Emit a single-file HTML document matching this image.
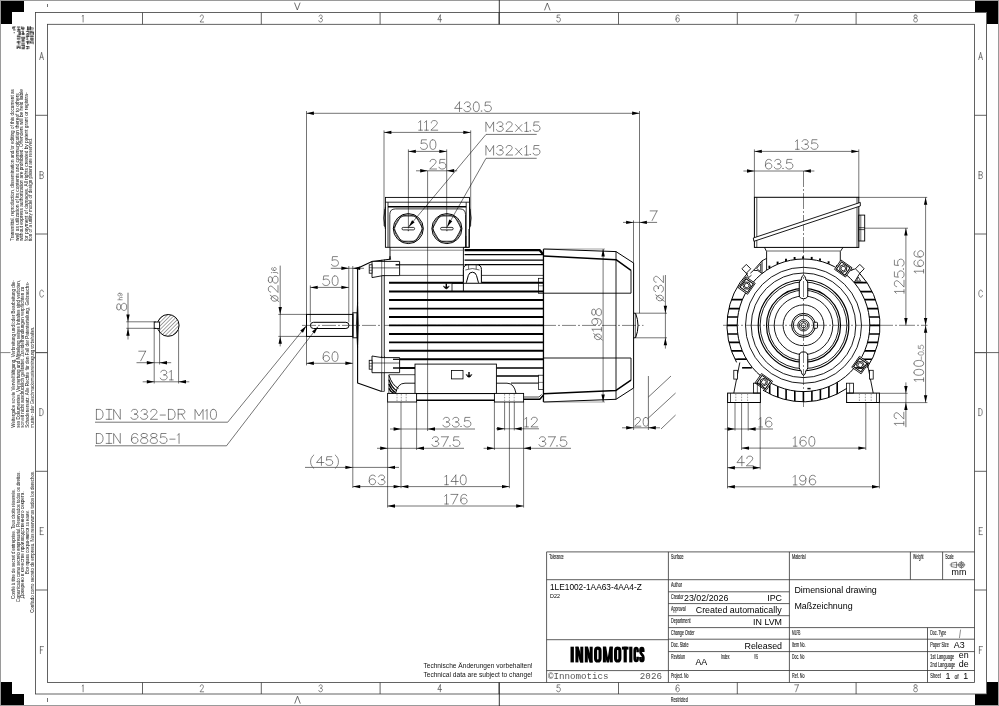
<!DOCTYPE html>
<html><head><meta charset="utf-8"><title>Dimensional drawing</title>
<style>html,body{margin:0;padding:0;background:#fff}svg{display:block;will-change:transform}text{white-space:pre}</style></head>
<body><svg width="999" height="706" viewBox="0 0 999 706">
<rect x="0" y="0" width="999" height="706" fill="#fff"/>
<path d="M0 0H24V12H12V24H0Z" fill="#000"/>
<path d="M999 0H975V12H987V24H999Z" fill="#000"/>
<path d="M0 706H24V694H12V682H0Z" fill="#000"/>
<path d="M999 706H975V694H987V682H999Z" fill="#000"/>
<rect x="0.5" y="0.5" width="998" height="705" fill="none" stroke="#9a9a9a" stroke-width="1"/>
<rect x="35.5" y="12.5" width="951" height="681.5" fill="none" stroke="#3c3c3c" stroke-width="0.8"/>
<rect x="47.5" y="24.3" width="927" height="658.1" fill="none" stroke="#3c3c3c" stroke-width="0.8"/>
<line x1="142.5" y1="12.5" x2="142.5" y2="24.3" stroke="#3c3c3c" stroke-width="0.8"/>
<line x1="142.5" y1="682.4" x2="142.5" y2="694" stroke="#3c3c3c" stroke-width="0.8"/>
<line x1="261.3" y1="12.5" x2="261.3" y2="24.3" stroke="#3c3c3c" stroke-width="0.8"/>
<line x1="261.3" y1="682.4" x2="261.3" y2="694" stroke="#3c3c3c" stroke-width="0.8"/>
<line x1="380.1" y1="12.5" x2="380.1" y2="24.3" stroke="#3c3c3c" stroke-width="0.8"/>
<line x1="380.1" y1="682.4" x2="380.1" y2="694" stroke="#3c3c3c" stroke-width="0.8"/>
<line x1="499" y1="12.5" x2="499" y2="24.3" stroke="#3c3c3c" stroke-width="0.8"/>
<line x1="499" y1="682.4" x2="499" y2="694" stroke="#3c3c3c" stroke-width="0.8"/>
<line x1="618.5" y1="12.5" x2="618.5" y2="24.3" stroke="#3c3c3c" stroke-width="0.8"/>
<line x1="618.5" y1="682.4" x2="618.5" y2="694" stroke="#3c3c3c" stroke-width="0.8"/>
<line x1="737.3" y1="12.5" x2="737.3" y2="24.3" stroke="#3c3c3c" stroke-width="0.8"/>
<line x1="737.3" y1="682.4" x2="737.3" y2="694" stroke="#3c3c3c" stroke-width="0.8"/>
<line x1="856.1" y1="12.5" x2="856.1" y2="24.3" stroke="#3c3c3c" stroke-width="0.8"/>
<line x1="856.1" y1="682.4" x2="856.1" y2="694" stroke="#3c3c3c" stroke-width="0.8"/>
<path transform="translate(83 22)" d="M-0.6 -5.83 L0.12 -7 L0.12 0" fill="none" stroke="#444" stroke-width="0.65" stroke-linecap="round" stroke-linejoin="round"/>
<path transform="translate(83 691.8)" d="M-0.6 -5.83 L0.12 -7 L0.12 0" fill="none" stroke="#444" stroke-width="0.65" stroke-linecap="round" stroke-linejoin="round"/>
<path transform="translate(201.8 22)" d="M-1.48 -5.33 L-1.48 -5.67 L-1.23 -6.33 L-0.97 -6.67 L-0.45 -7 L0.57 -7 L1.09 -6.67 L1.35 -6.33 L1.6 -5.67 L1.6 -5 L1.35 -4.33 L0.83 -3.33 L-1.74 0 L1.86 0" fill="none" stroke="#444" stroke-width="0.65" stroke-linecap="round" stroke-linejoin="round"/>
<path transform="translate(201.8 691.8)" d="M-1.48 -5.33 L-1.48 -5.67 L-1.23 -6.33 L-0.97 -6.67 L-0.45 -7 L0.57 -7 L1.09 -6.67 L1.35 -6.33 L1.6 -5.67 L1.6 -5 L1.35 -4.33 L0.83 -3.33 L-1.74 0 L1.86 0" fill="none" stroke="#444" stroke-width="0.65" stroke-linecap="round" stroke-linejoin="round"/>
<path transform="translate(320.6 22)" d="M-1.48 -5.67 L-1.23 -6.33 L-0.97 -6.67 L-0.45 -7 L0.57 -7 L1.09 -6.67 L1.35 -6.33 L1.6 -5.67 L1.6 -5 L1.35 -4.33 L0.83 -3.83 L0.06 -3.67 M0.06 -3.67 L0.83 -3.5 L1.35 -3.17 L1.73 -2.67 L1.86 -2 L1.86 -1.67 L1.6 -1 L1.09 -0.33 L0.32 0 L-0.45 0 L-1.23 -0.33 L-1.48 -0.67 L-1.74 -1.33" fill="none" stroke="#444" stroke-width="0.65" stroke-linecap="round" stroke-linejoin="round"/>
<path transform="translate(320.6 691.8)" d="M-1.48 -5.67 L-1.23 -6.33 L-0.97 -6.67 L-0.45 -7 L0.57 -7 L1.09 -6.67 L1.35 -6.33 L1.6 -5.67 L1.6 -5 L1.35 -4.33 L0.83 -3.83 L0.06 -3.67 M0.06 -3.67 L0.83 -3.5 L1.35 -3.17 L1.73 -2.67 L1.86 -2 L1.86 -1.67 L1.6 -1 L1.09 -0.33 L0.32 0 L-0.45 0 L-1.23 -0.33 L-1.48 -0.67 L-1.74 -1.33" fill="none" stroke="#444" stroke-width="0.65" stroke-linecap="round" stroke-linejoin="round"/>
<path transform="translate(439.5 22)" d="M0.83 -7 L-1.74 -2.33 L2.12 -2.33 M0.83 -7 L0.83 0" fill="none" stroke="#444" stroke-width="0.65" stroke-linecap="round" stroke-linejoin="round"/>
<path transform="translate(439.5 691.8)" d="M0.83 -7 L-1.74 -2.33 L2.12 -2.33 M0.83 -7 L0.83 0" fill="none" stroke="#444" stroke-width="0.65" stroke-linecap="round" stroke-linejoin="round"/>
<path transform="translate(558.5 22)" d="M1.35 -7 L-1.23 -7 L-1.48 -4 L-1.23 -4.33 L-0.45 -4.67 L0.32 -4.67 L1.09 -4.33 L1.6 -3.67 L1.86 -2.67 L1.86 -2 L1.6 -1 L1.09 -0.33 L0.32 0 L-0.45 0 L-1.23 -0.33 L-1.48 -0.67 L-1.74 -1.33" fill="none" stroke="#444" stroke-width="0.65" stroke-linecap="round" stroke-linejoin="round"/>
<path transform="translate(558.5 691.8)" d="M1.35 -7 L-1.23 -7 L-1.48 -4 L-1.23 -4.33 L-0.45 -4.67 L0.32 -4.67 L1.09 -4.33 L1.6 -3.67 L1.86 -2.67 L1.86 -2 L1.6 -1 L1.09 -0.33 L0.32 0 L-0.45 0 L-1.23 -0.33 L-1.48 -0.67 L-1.74 -1.33" fill="none" stroke="#444" stroke-width="0.65" stroke-linecap="round" stroke-linejoin="round"/>
<path transform="translate(677.5 22)" d="M1.6 -6 L1.35 -6.67 L0.57 -7 L0.06 -7 L-0.71 -6.67 L-1.23 -5.67 L-1.48 -4 L-1.48 -2.33 L-1.23 -1 L-0.71 -0.33 L0.06 0 L0.32 0 L1.09 -0.33 L1.6 -1 L1.86 -2 L1.86 -2.33 L1.6 -3.33 L1.09 -4 L0.32 -4.33 L0.06 -4.33 L-0.71 -4 L-1.23 -3.33 L-1.48 -2.33" fill="none" stroke="#444" stroke-width="0.65" stroke-linecap="round" stroke-linejoin="round"/>
<path transform="translate(677.5 691.8)" d="M1.6 -6 L1.35 -6.67 L0.57 -7 L0.06 -7 L-0.71 -6.67 L-1.23 -5.67 L-1.48 -4 L-1.48 -2.33 L-1.23 -1 L-0.71 -0.33 L0.06 0 L0.32 0 L1.09 -0.33 L1.6 -1 L1.86 -2 L1.86 -2.33 L1.6 -3.33 L1.09 -4 L0.32 -4.33 L0.06 -4.33 L-0.71 -4 L-1.23 -3.33 L-1.48 -2.33" fill="none" stroke="#444" stroke-width="0.65" stroke-linecap="round" stroke-linejoin="round"/>
<path transform="translate(796.5 22)" d="M1.86 -7 L-0.71 0 M-1.74 -7 L1.86 -7" fill="none" stroke="#444" stroke-width="0.65" stroke-linecap="round" stroke-linejoin="round"/>
<path transform="translate(796.5 691.8)" d="M1.86 -7 L-0.71 0 M-1.74 -7 L1.86 -7" fill="none" stroke="#444" stroke-width="0.65" stroke-linecap="round" stroke-linejoin="round"/>
<path transform="translate(915.5 22)" d="M-0.45 -7 L-1.23 -6.67 L-1.48 -6 L-1.48 -5.33 L-1.23 -4.67 L-0.71 -4.33 L0.32 -4 L1.09 -3.67 L1.6 -3 L1.86 -2.33 L1.86 -1.33 L1.6 -0.67 L1.35 -0.33 L0.57 0 L-0.45 0 L-1.23 -0.33 L-1.48 -0.67 L-1.74 -1.33 L-1.74 -2.33 L-1.48 -3 L-0.97 -3.67 L-0.2 -4 L0.83 -4.33 L1.35 -4.67 L1.6 -5.33 L1.6 -6 L1.35 -6.67 L0.57 -7 L-0.45 -7" fill="none" stroke="#444" stroke-width="0.65" stroke-linecap="round" stroke-linejoin="round"/>
<path transform="translate(915.5 691.8)" d="M-0.45 -7 L-1.23 -6.67 L-1.48 -6 L-1.48 -5.33 L-1.23 -4.67 L-0.71 -4.33 L0.32 -4 L1.09 -3.67 L1.6 -3 L1.86 -2.33 L1.86 -1.33 L1.6 -0.67 L1.35 -0.33 L0.57 0 L-0.45 0 L-1.23 -0.33 L-1.48 -0.67 L-1.74 -1.33 L-1.74 -2.33 L-1.48 -3 L-0.97 -3.67 L-0.2 -4 L0.83 -4.33 L1.35 -4.67 L1.6 -5.33 L1.6 -6 L1.35 -6.67 L0.57 -7 L-0.45 -7" fill="none" stroke="#444" stroke-width="0.65" stroke-linecap="round" stroke-linejoin="round"/>
<line x1="35.5" y1="115.3" x2="47.5" y2="115.3" stroke="#3c3c3c" stroke-width="0.8"/>
<line x1="974.5" y1="115.3" x2="986.5" y2="115.3" stroke="#3c3c3c" stroke-width="0.8"/>
<line x1="35.5" y1="234" x2="47.5" y2="234" stroke="#3c3c3c" stroke-width="0.8"/>
<line x1="974.5" y1="234" x2="986.5" y2="234" stroke="#3c3c3c" stroke-width="0.8"/>
<line x1="35.5" y1="352.6" x2="47.5" y2="352.6" stroke="#3c3c3c" stroke-width="0.8"/>
<line x1="974.5" y1="352.6" x2="986.5" y2="352.6" stroke="#3c3c3c" stroke-width="0.8"/>
<line x1="35.5" y1="471.3" x2="47.5" y2="471.3" stroke="#3c3c3c" stroke-width="0.8"/>
<line x1="974.5" y1="471.3" x2="986.5" y2="471.3" stroke="#3c3c3c" stroke-width="0.8"/>
<line x1="35.5" y1="590" x2="47.5" y2="590" stroke="#3c3c3c" stroke-width="0.8"/>
<line x1="974.5" y1="590" x2="986.5" y2="590" stroke="#3c3c3c" stroke-width="0.8"/>
<path transform="translate(41.6 59.6)" d="M0 -7 L-1.92 0 M0 -7 L1.92 0 M-1.2 -2.33 L1.2 -2.33" fill="none" stroke="#444" stroke-width="0.65" stroke-linecap="round" stroke-linejoin="round"/>
<path transform="translate(980.6 59.6)" d="M0 -7 L-1.92 0 M0 -7 L1.92 0 M-1.2 -2.33 L1.2 -2.33" fill="none" stroke="#444" stroke-width="0.65" stroke-linecap="round" stroke-linejoin="round"/>
<path transform="translate(41.6 178.6)" d="M-1.56 -7 L-1.56 0 M-1.56 -7 L0.6 -7 L1.32 -6.67 L1.56 -6.33 L1.8 -5.67 L1.8 -5 L1.56 -4.33 L1.32 -4 L0.6 -3.67 M-1.56 -3.67 L0.6 -3.67 L1.32 -3.33 L1.56 -3 L1.8 -2.33 L1.8 -1.33 L1.56 -0.67 L1.32 -0.33 L0.6 0 L-1.56 0" fill="none" stroke="#444" stroke-width="0.65" stroke-linecap="round" stroke-linejoin="round"/>
<path transform="translate(980.6 178.6)" d="M-1.56 -7 L-1.56 0 M-1.56 -7 L0.6 -7 L1.32 -6.67 L1.56 -6.33 L1.8 -5.67 L1.8 -5 L1.56 -4.33 L1.32 -4 L0.6 -3.67 M-1.56 -3.67 L0.6 -3.67 L1.32 -3.33 L1.56 -3 L1.8 -2.33 L1.8 -1.33 L1.56 -0.67 L1.32 -0.33 L0.6 0 L-1.56 0" fill="none" stroke="#444" stroke-width="0.65" stroke-linecap="round" stroke-linejoin="round"/>
<path transform="translate(41.6 297.1)" d="M1.8 -5.33 L1.56 -6 L1.08 -6.67 L0.6 -7 L-0.36 -7 L-0.84 -6.67 L-1.32 -6 L-1.56 -5.33 L-1.8 -4.33 L-1.8 -2.67 L-1.56 -1.67 L-1.32 -1 L-0.84 -0.33 L-0.36 0 L0.6 0 L1.08 -0.33 L1.56 -1 L1.8 -1.67" fill="none" stroke="#444" stroke-width="0.65" stroke-linecap="round" stroke-linejoin="round"/>
<path transform="translate(980.6 297.1)" d="M1.8 -5.33 L1.56 -6 L1.08 -6.67 L0.6 -7 L-0.36 -7 L-0.84 -6.67 L-1.32 -6 L-1.56 -5.33 L-1.8 -4.33 L-1.8 -2.67 L-1.56 -1.67 L-1.32 -1 L-0.84 -0.33 L-0.36 0 L0.6 0 L1.08 -0.33 L1.56 -1 L1.8 -1.67" fill="none" stroke="#444" stroke-width="0.65" stroke-linecap="round" stroke-linejoin="round"/>
<path transform="translate(41.6 415.6)" d="M-1.76 -7 L-1.76 0 M-1.76 -7 L-0.08 -7 L0.64 -6.67 L1.12 -6 L1.36 -5.33 L1.6 -4.33 L1.6 -2.67 L1.36 -1.67 L1.12 -1 L0.64 -0.33 L-0.08 0 L-1.76 0" fill="none" stroke="#444" stroke-width="0.65" stroke-linecap="round" stroke-linejoin="round"/>
<path transform="translate(980.6 415.6)" d="M-1.76 -7 L-1.76 0 M-1.76 -7 L-0.08 -7 L0.64 -6.67 L1.12 -6 L1.36 -5.33 L1.6 -4.33 L1.6 -2.67 L1.36 -1.67 L1.12 -1 L0.64 -0.33 L-0.08 0 L-1.76 0" fill="none" stroke="#444" stroke-width="0.65" stroke-linecap="round" stroke-linejoin="round"/>
<path transform="translate(41.6 534.6)" d="M-1.32 -7 L-1.32 0 M-1.32 -7 L1.8 -7 M-1.32 -3.67 L0.6 -3.67 M-1.32 0 L1.8 0" fill="none" stroke="#444" stroke-width="0.65" stroke-linecap="round" stroke-linejoin="round"/>
<path transform="translate(980.6 534.6)" d="M-1.32 -7 L-1.32 0 M-1.32 -7 L1.8 -7 M-1.32 -3.67 L0.6 -3.67 M-1.32 0 L1.8 0" fill="none" stroke="#444" stroke-width="0.65" stroke-linecap="round" stroke-linejoin="round"/>
<path transform="translate(41.6 653.6)" d="M-1.2 -7 L-1.2 0 M-1.2 -7 L1.92 -7 M-1.2 -3.67 L0.72 -3.67" fill="none" stroke="#444" stroke-width="0.65" stroke-linecap="round" stroke-linejoin="round"/>
<path transform="translate(980.6 653.6)" d="M-1.2 -7 L-1.2 0 M-1.2 -7 L1.92 -7 M-1.2 -3.67 L0.72 -3.67" fill="none" stroke="#444" stroke-width="0.65" stroke-linecap="round" stroke-linejoin="round"/>
<path transform="translate(297.3 10)" d="M-2.67 -7 L0 0 L2.67 -7" fill="none" stroke="#333" stroke-width="0.7" stroke-linecap="round" stroke-linejoin="round"/>
<path transform="translate(547.3 10)" d="M-2.67 0 L0 -7 L2.67 0" fill="none" stroke="#333" stroke-width="0.7" stroke-linecap="round" stroke-linejoin="round"/>
<line x1="47.5" y1="4" x2="47.5" y2="7" stroke="#333" stroke-width="0.7"/>
<line x1="47.5" y1="698" x2="47.5" y2="702" stroke="#333" stroke-width="0.7"/>
<path d="M12.4 27.8H14.8 M13.2 26.8H15.8 M14.1 26.5V29.1 M13.2 29.9H14.8 M12.4 27.8H14.8 M13.2 29.9H15.8 M12.7 26.5V29.1" stroke="#333" stroke-width="0.6" fill="none"/>
<rect x="13.7" y="32.2" width="1" height="1" fill="#333"/>
<path d="M16.9 26.8H20.3 M18.6 27.5V30.2 M16.9 29.9H20.3 M16.9 27.8H20.3 M17.7 29.9H20.3 M17.7 29.9H20.3 M17.7 29.9H20.3" stroke="#333" stroke-width="0.6" fill="none"/>
<path d="M20 31.2V34.9 M20 32.2V34.9 M18.6 32.2V33.8 M20 32.2V34.9 M20 31.2V34.9 M17.7 34.6H20.3 M16.9 31.5H20.3" stroke="#333" stroke-width="0.6" fill="none"/>
<path d="M16.9 39.3H20.3 M16.9 36.2H19.3 M20 35.9V38.5 M16.9 36.2H20.3 M16.9 36.2H20.3 M16.9 38.2H19.3 M16.9 38.2H20.3" stroke="#333" stroke-width="0.6" fill="none"/>
<path d="M18.6 40.6V44.3 M18.6 41.6V43.2 M17.2 41.6V43.2 M16.9 41.9H20.3 M20 40.6V43.2 M17.7 44H20.3 M16.9 41.9H19.3" stroke="#333" stroke-width="0.6" fill="none"/>
<path d="M18.6 45.3V47.9 M20 46.3V49 M17.2 46.3V49 M17.2 45.3V49 M18.6 46.3V47.9 M16.9 47.6H20.3 M20 45.3V49" stroke="#333" stroke-width="0.6" fill="none"/>
<path d="M21.7 26.5V29.1 M21.7 26.5V29.1 M21.4 28.8H24.8 M22.2 29.9H23.8 M21.4 28.8H23.8 M23.1 26.5V30.2 M22.2 27.8H24.8" stroke="#333" stroke-width="0.6" fill="none"/>
<path d="M21.4 31.5H23.8 M23.1 32.2V34.9 M23.1 32.2V34.9 M23.1 32.2V34.9 M21.4 33.5H24.8 M23.1 31.2V33.8 M21.4 34.6H24.8" stroke="#333" stroke-width="0.6" fill="none"/>
<path d="M22.2 39.3H23.8 M22.2 39.3H23.8 M22.2 38.2H24.8 M21.7 36.9V39.6 M21.4 37.2H24.8 M24.5 36.9V39.6 M23.1 36.9V39.6" stroke="#333" stroke-width="0.6" fill="none"/>
<path d="M21.4 40.9H23.8 M22.2 40.9H23.8 M21.4 40.9H24.8 M21.4 44H24.8 M22.2 40.9H24.8 M21.4 42.9H24.8 M21.4 44H24.8" stroke="#333" stroke-width="0.6" fill="none"/>
<path d="M21.4 48.7H24.8 M21.4 45.6H24.8 M21.4 45.6H24.8 M24.5 45.3V47.9 M21.4 47.6H24.8 M22.2 48.7H24.8 M23.1 45.3V49" stroke="#333" stroke-width="0.6" fill="none"/>
<path d="M27.6 26.5V30.2 M29 27.5V30.2 M29 26.5V30.2 M26.7 29.9H29.3 M27.6 26.5V30.2 M29 26.5V30.2 M27.6 26.5V30.2" stroke="#333" stroke-width="0.6" fill="none"/>
<path d="M26.7 33.5H28.3 M25.9 34.6H29.3 M25.9 31.5H29.3 M29 31.2V34.9 M26.7 31.5H28.3 M29 31.2V33.8 M26.7 33.5H28.3" stroke="#333" stroke-width="0.6" fill="none"/>
<path d="M25.9 36.2H29.3 M25.9 39.3H28.3 M26.7 36.2H29.3 M25.9 36.2H29.3 M26.7 36.2H29.3 M27.6 36.9V39.6 M26.2 36.9V38.5" stroke="#333" stroke-width="0.6" fill="none"/>
<path d="M25.9 41.9H28.3 M29 40.6V43.2 M25.9 41.9H29.3 M29 40.6V44.3 M27.6 40.6V44.3 M27.6 41.6V44.3 M27.6 41.6V44.3" stroke="#333" stroke-width="0.6" fill="none"/>
<path d="M27.6 46.3V49 M25.9 48.7H28.3 M25.9 46.6H29.3 M26.7 48.7H28.3 M29 46.3V49 M25.9 46.6H28.3 M26.7 46.6H28.3" stroke="#333" stroke-width="0.6" fill="none"/>
<path d="M31.9 27.5V29.1 M33.3 27.5V29.1 M30.5 26.5V30.2 M30.2 29.9H33.6 M30.5 26.5V30.2 M30.5 26.5V29.1 M30.2 27.8H32.6" stroke="#333" stroke-width="0.6" fill="none"/>
<path d="M33.3 32.2V34.9 M30.2 31.5H32.6 M30.5 31.2V34.9 M33.3 32.2V33.8 M30.2 32.5H33.6 M31.9 31.2V34.9 M33.3 31.2V34.9" stroke="#333" stroke-width="0.6" fill="none"/>
<path d="M30.2 36.2H33.6 M30.2 36.2H33.6 M30.2 38.2H33.6 M30.2 38.2H33.6 M30.2 39.3H33.6 M30.2 39.3H33.6 M30.2 36.2H33.6" stroke="#333" stroke-width="0.6" fill="none"/>
<path d="M30.5 40.6V43.2 M30.5 41.6V43.2 M30.2 42.9H33.6 M33.3 41.6V44.3 M31 42.9H32.6 M31 40.9H33.6 M31 40.9H33.6" stroke="#333" stroke-width="0.6" fill="none"/>
<text x="14" y="241" font-family="'Liberation Sans', sans-serif" font-size="4.8" fill="#111" text-anchor="start" transform="rotate(-90 14 241)" textLength="151.8" lengthAdjust="spacingAndGlyphs">Transmittal, reproduction, dissemination and/or editing of this document as</text>
<text x="18.6" y="241" font-family="'Liberation Sans', sans-serif" font-size="4.8" fill="#111" text-anchor="start" transform="rotate(-90 18.6 241)" textLength="147.7" lengthAdjust="spacingAndGlyphs">well as utilization of its contents and communication thereof to others</text>
<text x="23.2" y="241" font-family="'Liberation Sans', sans-serif" font-size="4.8" fill="#111" text-anchor="start" transform="rotate(-90 23.2 241)" textLength="151.8" lengthAdjust="spacingAndGlyphs">without express authorization are prohibited. Offenders will be held liable</text>
<text x="27.8" y="241" font-family="'Liberation Sans', sans-serif" font-size="4.8" fill="#111" text-anchor="start" transform="rotate(-90 27.8 241)" textLength="148.5" lengthAdjust="spacingAndGlyphs">for payment of damages. All rights created by patent grant or registra-</text>
<text x="32.4" y="241" font-family="'Liberation Sans', sans-serif" font-size="4.8" fill="#111" text-anchor="start" transform="rotate(-90 32.4 241)" textLength="103" lengthAdjust="spacingAndGlyphs">tion of a utility model or design patent are reserved.</text>
<text x="15.3" y="427.8" font-family="'Liberation Sans', sans-serif" font-size="4.8" fill="#111" text-anchor="start" transform="rotate(-90 15.3 427.8)" textLength="147.7" lengthAdjust="spacingAndGlyphs">Weitergabe sowie Vervielf&#228;ltigung, Verbreitung und/oder Bearbeitung die-</text>
<text x="19.9" y="427.8" font-family="'Liberation Sans', sans-serif" font-size="4.8" fill="#111" text-anchor="start" transform="rotate(-90 19.9 427.8)" textLength="147.7" lengthAdjust="spacingAndGlyphs">ses Dokumentes, Verwertung und Mitteilung seines Inhaltes sind verboten,</text>
<text x="24.5" y="427.8" font-family="'Liberation Sans', sans-serif" font-size="4.8" fill="#111" text-anchor="start" transform="rotate(-90 24.5 427.8)" textLength="141" lengthAdjust="spacingAndGlyphs">soweit nicht ausdr&#252;cklich gestattet. Zuwiderhandlungen verpflichten zu</text>
<text x="29.1" y="427.8" font-family="'Liberation Sans', sans-serif" font-size="4.8" fill="#111" text-anchor="start" transform="rotate(-90 29.1 427.8)" textLength="146" lengthAdjust="spacingAndGlyphs">Schadenersatz. Alle Rechte f&#252;r den Fall der Patenterteilung, Gebrauchs-</text>
<text x="33.7" y="427.8" font-family="'Liberation Sans', sans-serif" font-size="4.8" fill="#111" text-anchor="start" transform="rotate(-90 33.7 427.8)" textLength="101" lengthAdjust="spacingAndGlyphs">muster- oder Geschmacksmustereintragung vorbehalten.</text>
<text x="14.8" y="544" font-family="'Liberation Sans', sans-serif" font-size="4.8" fill="#111" text-anchor="middle" transform="rotate(-90 14.8 544)" textLength="110" lengthAdjust="spacingAndGlyphs">Confi&#233; &#224; titre de secret d'entreprise. Tous droits r&#233;serv&#233;s.</text>
<text x="19.6" y="536.7" font-family="'Liberation Sans', sans-serif" font-size="4.8" fill="#111" text-anchor="middle" transform="rotate(-90 19.6 536.7)" textLength="130.6" lengthAdjust="spacingAndGlyphs">Comunicado como secreto empresarial. Reservados todos os direitos.</text>
<text x="24.4" y="544.8" font-family="'Liberation Sans', sans-serif" font-size="4.8" fill="#111" text-anchor="middle" transform="rotate(-90 24.4 544.8)" textLength="107" lengthAdjust="spacingAndGlyphs">&#1044;&#1086;&#1074;&#1077;&#1088;&#1077;&#1085;&#1086; &#1074; &#1082;&#1072;&#1095;&#1077;&#1089;&#1090;&#1074;&#1077; &#1087;&#1088;&#1086;&#1080;&#1079;&#1074;&#1086;&#1076;&#1089;&#1090;&#1074;&#1077;&#1085;&#1085;&#1086;&#1075;&#1086; &#1089;&#1077;&#1082;&#1088;&#1077;&#1090;&#1072;.</text>
<text x="29.2" y="542" font-family="'Liberation Sans', sans-serif" font-size="4.8" fill="#111" text-anchor="middle" transform="rotate(-90 29.2 542)" textLength="64" lengthAdjust="spacingAndGlyphs">&#1042;&#1089;&#1077; &#1087;&#1088;&#1072;&#1074;&#1072; &#1089;&#1086;&#1093;&#1088;&#1072;&#1085;&#1103;&#1102;&#1090;&#1089;&#1103; &#1079;&#1072; &#1085;&#1072;&#1084;&#1080;.</text>
<text x="34" y="541.8" font-family="'Liberation Sans', sans-serif" font-size="4.8" fill="#111" text-anchor="middle" transform="rotate(-90 34 541.8)" textLength="142" lengthAdjust="spacingAndGlyphs">Confiado como secreto de empresa. Nos reservamos todos los derechos.</text>
<line x1="499.3" y1="0" x2="499.3" y2="24.3" stroke="#222" stroke-width="0.9"/>
<line x1="499.3" y1="682.4" x2="499.3" y2="706" stroke="#222" stroke-width="0.9"/>
<line x1="0" y1="352.6" x2="10.5" y2="352.6" stroke="#777" stroke-width="0.9"/>
<line x1="35.5" y1="352.6" x2="47.5" y2="352.6" stroke="#555" stroke-width="0.9"/>
<line x1="974.5" y1="352.6" x2="999" y2="352.6" stroke="#555" stroke-width="0.9"/>
<path transform="translate(297.5 703.2)" d="M-2.67 0 L0 -7 L2.67 0" fill="none" stroke="#333" stroke-width="0.7" stroke-linecap="round" stroke-linejoin="round"/>
<defs><pattern id="hat" width="2.6" height="2.6" patternUnits="userSpaceOnUse" patternTransform="rotate(-45)"><line x1="0" y1="0" x2="2.6" y2="0" stroke="#000" stroke-width="0.7"/></pattern><clipPath id="cpS"><circle cx="168.2" cy="325.4" r="10.9"/></clipPath></defs>
<rect x="150" y="310" width="40" height="32" fill="url(#hat)" clip-path="url(#cpS)"/>
<circle cx="168.2" cy="325.4" r="10.9" fill="none" stroke="#000" stroke-width="1"/>
<rect x="154.2" y="322" width="5.4" height="6.4" fill="#fff" stroke="#000" stroke-width="0.9"/>
<line x1="126.3" y1="321.8" x2="156" y2="321.8" stroke="#000" stroke-width="0.55"/>
<line x1="126.3" y1="328.3" x2="156" y2="328.3" stroke="#000" stroke-width="0.55"/>
<line x1="128" y1="292.7" x2="128" y2="339.5" stroke="#000" stroke-width="0.55"/>
<path d="M128 321.8 L126.3 314.4 L129.7 314.4 Z" fill="#000"/>
<path d="M128 328.3 L129.7 335.7 L126.3 335.7 Z" fill="#000"/>
<path transform="translate(126.6 311.8) rotate(-90)" d="M3.9 -9.8 L2.4 -9.33 L1.9 -8.4 L1.9 -7.47 L2.4 -6.53 L3.4 -6.07 L5.4 -5.6 L6.9 -5.13 L7.9 -4.2 L8.4 -3.27 L8.4 -1.87 L7.9 -0.93 L7.4 -0.47 L5.9 0 L3.9 0 L2.4 -0.47 L1.9 -0.93 L1.4 -1.87 L1.4 -3.27 L1.9 -4.2 L2.9 -5.13 L4.4 -5.6 L6.4 -6.07 L7.4 -6.53 L7.9 -7.47 L7.9 -8.4 L7.4 -9.33 L5.9 -9.8 L3.9 -9.8" fill="none" stroke="#4a4a4a" stroke-width="0.68" stroke-linecap="round" stroke-linejoin="round"/>
<path transform="translate(122.2 300.6) rotate(-90)" d="M0.82 -4.3 L0.82 0 M0.82 -2.05 L1.43 -2.66 L1.84 -2.87 L2.46 -2.87 L2.87 -2.66 L3.07 -2.05 L3.07 0 M7.36 -2.87 L7.14 -2.25 L6.7 -1.84 L6.04 -1.64 L5.82 -1.64 L5.16 -1.84 L4.72 -2.25 L4.5 -2.87 L4.5 -3.07 L4.72 -3.69 L5.16 -4.1 L5.82 -4.3 L6.04 -4.3 L6.7 -4.1 L7.14 -3.69 L7.36 -2.87 L7.36 -1.84 L7.14 -0.82 L6.7 -0.2 L6.04 0 L5.6 0 L4.94 -0.2 L4.72 -0.61" fill="none" stroke="#4a4a4a" stroke-width="0.55" stroke-linecap="round" stroke-linejoin="round"/>
<line x1="154.2" y1="328.4" x2="154.2" y2="383.5" stroke="#000" stroke-width="0.55"/>
<line x1="159.6" y1="328.4" x2="159.6" y2="364.5" stroke="#000" stroke-width="0.55"/>
<line x1="178.6" y1="330" x2="178.6" y2="383.5" stroke="#000" stroke-width="0.55"/>
<line x1="136.5" y1="362.7" x2="154.2" y2="362.7" stroke="#000" stroke-width="0.55"/>
<line x1="159.6" y1="362.7" x2="171.2" y2="362.7" stroke="#000" stroke-width="0.55"/>
<path d="M154.2 362.7 L146.8 364.4 L146.8 361 Z" fill="#000"/>
<path d="M159.6 362.7 L167 361 L167 364.4 Z" fill="#000"/>
<line x1="154.2" y1="362.7" x2="159.6" y2="362.7" stroke="#000" stroke-width="0.55"/>
<path transform="translate(137.4 360.8)" d="M8.23 -9.6 L3.33 0 M1.37 -9.6 L8.23 -9.6" fill="none" stroke="#4a4a4a" stroke-width="0.68" stroke-linecap="round" stroke-linejoin="round"/>
<line x1="142.7" y1="381.8" x2="154.2" y2="381.8" stroke="#000" stroke-width="0.55"/>
<line x1="178.6" y1="381.8" x2="189.3" y2="381.8" stroke="#000" stroke-width="0.55"/>
<path d="M154.2 381.8 L146.8 383.5 L146.8 380.1 Z" fill="#000"/>
<path d="M178.6 381.8 L186 380.1 L186 383.5 Z" fill="#000"/>
<line x1="154.2" y1="381.8" x2="178.6" y2="381.8" stroke="#000" stroke-width="0.55"/>
<path transform="translate(159 379.9)" d="M1.86 -7.77 L2.35 -8.69 L2.84 -9.14 L3.82 -9.6 L5.78 -9.6 L6.76 -9.14 L7.25 -8.69 L7.74 -7.77 L7.74 -6.86 L7.25 -5.94 L6.27 -5.26 L4.8 -5.03 M4.8 -5.03 L6.27 -4.8 L7.25 -4.34 L7.98 -3.66 L8.23 -2.74 L8.23 -2.29 L7.74 -1.37 L6.76 -0.46 L5.29 0 L3.82 0 L2.35 -0.46 L1.86 -0.91 L1.37 -1.83 M10.51 -7.77 L12.34 -9.6 L12.34 0 M10.51 0 L14.17 0" fill="none" stroke="#4a4a4a" stroke-width="0.68" stroke-linecap="round" stroke-linejoin="round"/>
<path transform="translate(95 419.3)" d="M1.41 -9.9 L1.41 0 M1.41 -9.9 L4.71 -9.9 L6.13 -9.43 L7.07 -8.49 L7.54 -7.54 L8.01 -6.13 L8.01 -3.77 L7.54 -2.36 L7.07 -1.41 L6.13 -0.47 L4.71 0 L1.41 0 M11.17 -9.9 L16.83 -9.9 M14 -9.9 L14 0 M11.17 0 L16.83 0 M18.67 0 L18.67 -9.9 L25.27 0 L25.27 -9.9 M36.48 -8.01 L36.98 -8.96 L37.49 -9.43 L38.5 -9.9 L40.52 -9.9 L41.53 -9.43 L42.03 -8.96 L42.54 -8.01 L42.54 -7.07 L42.03 -6.13 L41.02 -5.42 L39.51 -5.19 M39.51 -5.19 L41.02 -4.95 L42.03 -4.48 L42.79 -3.77 L43.04 -2.83 L43.04 -2.36 L42.54 -1.41 L41.53 -0.47 L40.01 0 L38.5 0 L36.98 -0.47 L36.48 -0.94 L35.97 -1.89 M46.14 -8.01 L46.64 -8.96 L47.15 -9.43 L48.16 -9.9 L50.18 -9.9 L51.19 -9.43 L51.7 -8.96 L52.2 -8.01 L52.2 -7.07 L51.7 -6.13 L50.69 -5.42 L49.17 -5.19 M49.17 -5.19 L50.69 -4.95 L51.7 -4.48 L52.45 -3.77 L52.71 -2.83 L52.71 -2.36 L52.2 -1.41 L51.19 -0.47 L49.68 0 L48.16 0 L46.64 -0.47 L46.14 -0.94 L45.63 -1.89 M55.8 -7.54 L55.8 -8.01 L56.31 -8.96 L56.81 -9.43 L57.82 -9.9 L59.84 -9.9 L60.85 -9.43 L61.36 -8.96 L61.86 -8.01 L61.86 -7.07 L61.36 -6.13 L60.35 -4.71 L55.3 0 L62.37 0 M65.2 -4.24 L70.38 -4.24 M73.45 -9.9 L73.45 0 M73.45 -9.9 L76.75 -9.9 L78.16 -9.43 L79.11 -8.49 L79.58 -7.54 L80.05 -6.13 L80.05 -3.77 L79.58 -2.36 L79.11 -1.41 L78.16 -0.47 L76.75 0 L73.45 0 M83.21 -9.9 L83.21 0 M83.21 -9.9 L87.45 -9.9 L88.86 -9.43 L89.34 -8.96 L89.81 -8.01 L89.81 -7.07 L89.34 -6.13 L88.86 -5.66 L87.45 -5.19 L83.21 -5.19 M86.51 -5.19 L89.81 0 M100.04 0 L100.04 -9.9 L104.04 -3.3 L108.05 -9.9 L108.05 0 M110.64 -8.25 L112.06 -9.9 L112.06 0 M117.99 -9.9 L116.67 -9.43 L115.8 -8.01 L115.36 -5.66 L115.36 -4.24 L115.8 -1.89 L116.67 -0.47 L117.99 0 L118.86 0 L120.17 -0.47 L121.05 -1.89 L121.49 -4.24 L121.49 -5.66 L121.05 -8.01 L120.17 -9.43 L118.86 -9.9 L117.99 -9.9" fill="none" stroke="#4a4a4a" stroke-width="0.68" stroke-linecap="round" stroke-linejoin="round"/>
<path d="M95 422.2 L227.7 422.2 L306.3 325.9" fill="none" stroke="#000" stroke-width="0.55" stroke-linejoin="round"/>
<path d="M306.3 325.9 L302.94 332.71 L300.3 330.56 Z" fill="#000"/>
<path transform="translate(95 443.4)" d="M1.41 -9.9 L1.41 0 M1.41 -9.9 L4.71 -9.9 L6.13 -9.43 L7.07 -8.49 L7.54 -7.54 L8.01 -6.13 L8.01 -3.77 L7.54 -2.36 L7.07 -1.41 L6.13 -0.47 L4.71 0 L1.41 0 M11.17 -9.9 L16.83 -9.9 M14 -9.9 L14 0 M11.17 0 L16.83 0 M18.67 0 L18.67 -9.9 L25.27 0 L25.27 -9.9 M42.54 -8.49 L42.03 -9.43 L40.52 -9.9 L39.51 -9.9 L37.99 -9.43 L36.98 -8.01 L36.48 -5.66 L36.48 -3.3 L36.98 -1.41 L37.99 -0.47 L39.51 0 L40.01 0 L41.53 -0.47 L42.54 -1.41 L43.04 -2.83 L43.04 -3.3 L42.54 -4.71 L41.53 -5.66 L40.01 -6.13 L39.51 -6.13 L37.99 -5.66 L36.98 -4.71 L36.48 -3.3 M48.16 -9.9 L46.64 -9.43 L46.14 -8.49 L46.14 -7.54 L46.64 -6.6 L47.65 -6.13 L49.68 -5.66 L51.19 -5.19 L52.2 -4.24 L52.71 -3.3 L52.71 -1.89 L52.2 -0.94 L51.7 -0.47 L50.18 0 L48.16 0 L46.64 -0.47 L46.14 -0.94 L45.63 -1.89 L45.63 -3.3 L46.14 -4.24 L47.15 -5.19 L48.66 -5.66 L50.69 -6.13 L51.7 -6.6 L52.2 -7.54 L52.2 -8.49 L51.7 -9.43 L50.18 -9.9 L48.16 -9.9 M57.82 -9.9 L56.31 -9.43 L55.8 -8.49 L55.8 -7.54 L56.31 -6.6 L57.32 -6.13 L59.34 -5.66 L60.85 -5.19 L61.86 -4.24 L62.37 -3.3 L62.37 -1.89 L61.86 -0.94 L61.36 -0.47 L59.84 0 L57.82 0 L56.31 -0.47 L55.8 -0.94 L55.3 -1.89 L55.3 -3.3 L55.8 -4.24 L56.81 -5.19 L58.33 -5.66 L60.35 -6.13 L61.36 -6.6 L61.86 -7.54 L61.86 -8.49 L61.36 -9.43 L59.84 -9.9 L57.82 -9.9 M71.02 -9.9 L65.97 -9.9 L65.47 -5.66 L65.97 -6.13 L67.49 -6.6 L69 -6.6 L70.52 -6.13 L71.53 -5.19 L72.03 -3.77 L72.03 -2.83 L71.53 -1.41 L70.52 -0.47 L69 0 L67.49 0 L65.97 -0.47 L65.47 -0.94 L64.96 -1.89 M74.86 -4.24 L80.05 -4.24 M82.64 -8.25 L84.06 -9.9 L84.06 0" fill="none" stroke="#4a4a4a" stroke-width="0.68" stroke-linecap="round" stroke-linejoin="round"/>
<path d="M95 445.8 L226.5 445.8 L317.9 326.7" fill="none" stroke="#000" stroke-width="0.55" stroke-linejoin="round"/>
<path d="M317.9 326.7 L314.74 333.61 L312.05 331.54 Z" fill="#000"/>
<line x1="302" y1="325.4" x2="643.5" y2="325.4" stroke="#000" stroke-width="0.5" stroke-dasharray="14 2 2 2"/>
<rect x="306.5" y="314.4" width="46.4" height="22" fill="none" stroke="#000" stroke-width="1"/>
<rect x="310.4" y="322.3" width="38.6" height="6.2" fill="none" stroke="#000" stroke-width="1" rx="3.1"/>
<rect x="352.9" y="312.8" width="4.3" height="25" fill="none" stroke="#000" stroke-width="0.9"/>
<path d="M357.6 302.5 Q355.2 325.4 357.6 347.5" fill="none" stroke="#000" stroke-width="0.8"/>
<path d="M357.6 306 Q359.6 325.4 357.6 345" fill="none" stroke="#000" stroke-width="0.6"/>
<path d="M389.8 259.2 L372 261.5 L357.6 268.3 L357.6 383.1 L381.7 391.5" fill="none" stroke="#000" stroke-width="1.1" stroke-linejoin="round"/>
<rect x="381.7" y="275.6" width="2.8" height="115.9" fill="#c9c9c9" stroke="#000" stroke-width="0.6"/>
<line x1="381.7" y1="259.8" x2="381.7" y2="275.6" stroke="#000" stroke-width="0.6"/>
<line x1="384.5" y1="259.5" x2="384.5" y2="275.6" stroke="#000" stroke-width="0.6"/>
<line x1="389" y1="282.8" x2="543.3" y2="282.8" stroke="#000" stroke-width="1.9"/>
<line x1="389" y1="291.5" x2="543.3" y2="291.5" stroke="#000" stroke-width="1.9"/>
<line x1="389" y1="300" x2="543.3" y2="300" stroke="#000" stroke-width="1.9"/>
<line x1="389" y1="308.6" x2="543.3" y2="308.6" stroke="#000" stroke-width="1.9"/>
<line x1="389" y1="317" x2="543.3" y2="317" stroke="#000" stroke-width="1.9"/>
<line x1="389" y1="325.4" x2="543.3" y2="325.4" stroke="#000" stroke-width="1.9"/>
<line x1="389" y1="334" x2="543.3" y2="334" stroke="#000" stroke-width="1.9"/>
<line x1="389" y1="342.4" x2="543.3" y2="342.4" stroke="#000" stroke-width="1.9"/>
<line x1="389" y1="350.8" x2="543.3" y2="350.8" stroke="#000" stroke-width="1.9"/>
<line x1="399.6" y1="359.3" x2="543.3" y2="359.3" stroke="#000" stroke-width="1.9"/>
<line x1="396" y1="368" x2="415" y2="368" stroke="#000" stroke-width="1.9"/>
<line x1="496.4" y1="368" x2="543.3" y2="368" stroke="#000" stroke-width="1.6"/>
<line x1="388.7" y1="374.7" x2="415" y2="374.7" stroke="#000" stroke-width="0.7"/>
<line x1="496.4" y1="376" x2="538.5" y2="376" stroke="#000" stroke-width="1.3"/>
<line x1="511" y1="383.1" x2="538.5" y2="383.1" stroke="#000" stroke-width="1"/>
<line x1="384.5" y1="264.8" x2="463.4" y2="264.8" stroke="#000" stroke-width="1"/>
<line x1="399.6" y1="275.4" x2="463.4" y2="275.4" stroke="#000" stroke-width="0.7"/>
<line x1="481.4" y1="275.4" x2="543.3" y2="275.4" stroke="#000" stroke-width="0.7"/>
<path d="M464.6 250.2 L539.8 250.2 L543 254.2" fill="none" stroke="#000" stroke-width="2.3" stroke-linejoin="round"/>
<line x1="464.6" y1="254.7" x2="543.3" y2="254.7" stroke="#000" stroke-width="1.25"/>
<line x1="464.6" y1="260.1" x2="543.3" y2="260.1" stroke="#000" stroke-width="1.25"/>
<line x1="464.6" y1="264.7" x2="543.3" y2="264.7" stroke="#000" stroke-width="1.25"/>
<line x1="543.3" y1="249.4" x2="543.3" y2="402" stroke="#000" stroke-width="1"/>
<path d="M372 261.4 L399.6 261.4 L399.6 275.6 L383 275.6 L372 277.6 Z" fill="#fff" stroke="#000" stroke-width="0.9" stroke-linejoin="round"/>
<rect x="369.2" y="264.8" width="2.8" height="8.4" fill="#fff" stroke="#000" stroke-width="0.8"/>
<line x1="369.2" y1="267.7" x2="372" y2="267.7" stroke="#000" stroke-width="0.5"/>
<line x1="369.2" y1="270.3" x2="372" y2="270.3" stroke="#000" stroke-width="0.5"/>
<line x1="372" y1="267.9" x2="399.6" y2="267.9" stroke="#000" stroke-width="0.6"/>
<line x1="381.7" y1="261.4" x2="381.7" y2="275.6" stroke="#000" stroke-width="0.5"/>
<line x1="384.5" y1="261.4" x2="384.5" y2="275.6" stroke="#000" stroke-width="0.5"/>
<path d="M372 356 L382 357.6 L399.6 357.6 L399.6 372.7 L372 372.7 Z" fill="#fff" stroke="#000" stroke-width="0.9" stroke-linejoin="round"/>
<rect x="369.2" y="360.3" width="2.8" height="8.9" fill="#fff" stroke="#000" stroke-width="0.8"/>
<line x1="369.2" y1="363.45" x2="372" y2="363.45" stroke="#000" stroke-width="0.5"/>
<line x1="369.2" y1="366.05" x2="372" y2="366.05" stroke="#000" stroke-width="0.5"/>
<line x1="372" y1="363" x2="399.6" y2="363" stroke="#000" stroke-width="0.6"/>
<line x1="381.7" y1="356" x2="381.7" y2="372.7" stroke="#000" stroke-width="0.5"/>
<line x1="384.5" y1="356" x2="384.5" y2="372.7" stroke="#000" stroke-width="0.5"/>
<line x1="395.6" y1="264.8" x2="399.6" y2="264.8" stroke="#000" stroke-width="1.4"/>
<line x1="393" y1="359.3" x2="399.6" y2="359.3" stroke="#000" stroke-width="1.2"/>
<line x1="393" y1="368" x2="399.6" y2="368" stroke="#000" stroke-width="1.4"/>
<rect x="385.4" y="197.4" width="84.1" height="49.9" fill="none" stroke="#000" stroke-width="0.9"/>
<line x1="385.4" y1="202.2" x2="469.5" y2="202.2" stroke="#000" stroke-width="0.8"/>
<line x1="388" y1="206.7" x2="466.2" y2="206.7" stroke="#000" stroke-width="1.5"/>
<line x1="388" y1="202.2" x2="388" y2="247.3" stroke="#000" stroke-width="0.8"/>
<line x1="466.2" y1="202.2" x2="466.2" y2="247.3" stroke="#000" stroke-width="0.8"/>
<path d="M389.8 247.3 V214.5 Q389.8 208.9 395.4 208.9 H459.9 Q465.5 208.9 465.5 214.5 V247.3" fill="none" stroke="#000" stroke-width="0.8"/>
<path d="M385.4 207 Q382.4 218 385.4 229" fill="none" stroke="#000" stroke-width="0.7"/>
<path d="M384.6 209 Q383.4 218 384.6 227" fill="none" stroke="#000" stroke-width="0.5"/>
<path d="M469.5 207 Q472.5 218 469.5 229" fill="none" stroke="#000" stroke-width="0.7"/>
<path d="M470.3 209 Q471.5 218 470.3 227" fill="none" stroke="#000" stroke-width="0.5"/>
<circle cx="408.3" cy="228.6" r="15" fill="none" stroke="#000" stroke-width="1"/>
<circle cx="408.3" cy="228.6" r="13.7" fill="none" stroke="#000" stroke-width="0.7"/>
<path d="M422.9 228.6 L415.6 241.24 L401 241.24 L393.7 228.6 L401 215.96 L415.6 215.96 Z" fill="none" stroke="#000" stroke-width="0.8" stroke-linejoin="round"/>
<rect x="402" y="227.4" width="12.6" height="2.5" fill="none" stroke="#000" stroke-width="0.8" rx="1.2"/>
<line x1="408.3" y1="229.9" x2="408.3" y2="231.2" stroke="#000" stroke-width="0.8"/>
<circle cx="446.9" cy="228.6" r="15" fill="none" stroke="#000" stroke-width="1"/>
<circle cx="446.9" cy="228.6" r="13.7" fill="none" stroke="#000" stroke-width="0.7"/>
<path d="M461.5 228.6 L454.2 241.24 L439.6 241.24 L432.3 228.6 L439.6 215.96 L454.2 215.96 Z" fill="none" stroke="#000" stroke-width="0.8" stroke-linejoin="round"/>
<rect x="440.6" y="227.4" width="12.6" height="2.5" fill="none" stroke="#000" stroke-width="0.8" rx="1.2"/>
<line x1="446.9" y1="229.9" x2="446.9" y2="231.2" stroke="#000" stroke-width="0.8"/>
<line x1="390" y1="247.3" x2="390" y2="259.2" stroke="#000" stroke-width="0.9"/>
<line x1="463.4" y1="247.3" x2="463.4" y2="291.5" stroke="#000" stroke-width="0.9"/>
<line x1="390" y1="250.2" x2="463.4" y2="250.2" stroke="#555" stroke-width="0.7"/>
<path d="M390 256 L389.2 259.6 L390.8 259.6 Z" fill="#000" stroke="#000" stroke-width="0.4"/>
<line x1="465.9" y1="236" x2="465.9" y2="247.3" stroke="#000" stroke-width="0.6"/>
<line x1="468.7" y1="229" x2="468.7" y2="247.4" stroke="#000" stroke-width="0.6"/>
<line x1="463.4" y1="247.4" x2="468.7" y2="247.4" stroke="#000" stroke-width="0.7"/>
<path d="M463.4 282.8 V269.5 Q463.4 264.8 468 264.8 H476.8 Q481.4 264.8 481.4 269.5 V282.8" fill="#fff" stroke="#000" stroke-width="1"/>
<path d="M466.3 282.8 L468.3 275.5 Q469.2 272.2 472.4 272.2 Q475.6 272.2 476.5 275.5 L478.5 282.8" fill="none" stroke="#000" stroke-width="1"/>
<path d="M465.3 270 Q472.4 267 479.5 270" fill="none" stroke="#000" stroke-width="0.6"/>
<line x1="468.6" y1="264.8" x2="468.6" y2="269" stroke="#000" stroke-width="0.6"/>
<line x1="476.2" y1="264.8" x2="476.2" y2="269" stroke="#000" stroke-width="0.6"/>
<path d="M452 291.5 L452 283.4 L463.4 283.4" fill="none" stroke="#000" stroke-width="0.8" stroke-linejoin="round"/>
<line x1="446.3" y1="283.6" x2="446.3" y2="288" stroke="#000" stroke-width="1.4"/>
<path d="M443.3 286 Q446.3 291.8 449.3 286 Q446.3 288.4 443.3 286 Z" fill="#000" stroke="#000" stroke-width="0.5" stroke-linejoin="round"/>
<rect x="415" y="364.1" width="81.4" height="29.4" fill="#fff" stroke="#000" stroke-width="0.9"/>
<rect x="451.5" y="370.4" width="11.5" height="8.5" fill="none" stroke="#000" stroke-width="0.8"/>
<line x1="469" y1="372" x2="469" y2="376.4" stroke="#000" stroke-width="1.4"/>
<path d="M466 374.4 Q469 380.2 472 374.4 Q469 376.8 466 374.4 Z" fill="#000" stroke="#000" stroke-width="0.5" stroke-linejoin="round"/>
<rect x="387.6" y="393.4" width="29" height="8.6" fill="#fff" stroke="#000" stroke-width="0.9"/>
<rect x="494.4" y="393.4" width="29.2" height="8.6" fill="#fff" stroke="#000" stroke-width="0.9"/>
<line x1="397" y1="394" x2="397" y2="401.6" stroke="#888" stroke-width="0.8" stroke-dasharray="1.6 1.2"/>
<line x1="401.3" y1="394" x2="401.3" y2="401.6" stroke="#888" stroke-width="0.8" stroke-dasharray="1.6 1.2"/>
<line x1="406.2" y1="394" x2="406.2" y2="401.6" stroke="#888" stroke-width="0.8" stroke-dasharray="1.6 1.2"/>
<line x1="504.6" y1="394" x2="504.6" y2="401.6" stroke="#888" stroke-width="0.8" stroke-dasharray="1.6 1.2"/>
<line x1="509.4" y1="394" x2="509.4" y2="401.6" stroke="#888" stroke-width="0.8" stroke-dasharray="1.6 1.2"/>
<line x1="514.2" y1="394" x2="514.2" y2="401.6" stroke="#888" stroke-width="0.8" stroke-dasharray="1.6 1.2"/>
<line x1="416.6" y1="393.6" x2="494.4" y2="393.6" stroke="#000" stroke-width="0.8"/>
<line x1="416.6" y1="400.2" x2="494.4" y2="400.2" stroke="#000" stroke-width="1.5"/>
<path d="M395.6 393.4 Q397.5 383.2 405 383.2 H415" fill="none" stroke="#000" stroke-width="0.9"/>
<path d="M496.4 383.2 H507 Q514.2 383.2 516 393.4" fill="none" stroke="#000" stroke-width="0.9"/>
<path d="M388.9 375.2 Q392 385 398.4 388.4" fill="none" stroke="#000" stroke-width="1"/>
<path d="M388.9 379.6 Q391.6 387.6 396.8 390.8" fill="none" stroke="#000" stroke-width="1.3"/>
<path d="M388.9 384.0 Q391 389.6 395.6 392.8" fill="none" stroke="#000" stroke-width="1.3"/>
<path d="M388.9 388.4 Q390.4 391.6 393.6 393.2" fill="none" stroke="#000" stroke-width="1.3"/>
<line x1="388.9" y1="375.2" x2="388.9" y2="393.4" stroke="#000" stroke-width="0.7"/>
<path d="M523.6 399.3 L539.8 399.3 L543.3 395.2" fill="none" stroke="#000" stroke-width="1.5" stroke-linejoin="round"/>
<path d="M523.6 397 L539 397 L541.6 394.4" fill="none" stroke="#000" stroke-width="0.7" stroke-linejoin="round"/>
<rect x="538.5" y="375.2" width="4.8" height="14.4" fill="none" stroke="#000" stroke-width="0.7"/>
<line x1="538.5" y1="382.4" x2="543.3" y2="382.4" stroke="#000" stroke-width="0.5"/>
<path d="M543.6 249 L616 251.6 L633.6 263 L633.6 388 L616 399.3 L543.6 402 Z" fill="none" stroke="#000" stroke-width="1" stroke-linejoin="round"/>
<path d="M543.6 256 L616 259.7 L631 270.3" fill="none" stroke="#000" stroke-width="1.5" stroke-linejoin="round"/>
<path d="M631 270.3 L631 293.2 L543.6 293.2" fill="none" stroke="#000" stroke-width="0.9" stroke-linejoin="round"/>
<path d="M543.6 393.7 L616 390.4 L631 380.2" fill="none" stroke="#000" stroke-width="1.5" stroke-linejoin="round"/>
<path d="M631 380.2 L631 358 L543.6 358" fill="none" stroke="#000" stroke-width="0.9" stroke-linejoin="round"/>
<line x1="616" y1="251.6" x2="616" y2="399.3" stroke="#000" stroke-width="0.9"/>
<rect x="538.6" y="278.3" width="4.7" height="15" fill="none" stroke="#000" stroke-width="0.7"/>
<line x1="538.6" y1="285.8" x2="543.3" y2="285.8" stroke="#000" stroke-width="0.5"/>
<path d="M633.6 313.2 H635.6 Q640.4 325.4 635.6 337.8 H633.6" fill="none" stroke="#000" stroke-width="1"/>
<line x1="635.4" y1="313.2" x2="635.4" y2="337.8" stroke="#000" stroke-width="0.6"/>
<line x1="306.5" y1="111" x2="306.5" y2="314.4" stroke="#000" stroke-width="0.55"/>
<line x1="639.5" y1="111" x2="639.5" y2="313.2" stroke="#000" stroke-width="0.55"/>
<line x1="306.5" y1="113.3" x2="639.5" y2="113.3" stroke="#000" stroke-width="0.55"/>
<path d="M306.5 113.3 L313.9 111.6 L313.9 115 Z" fill="#000"/>
<path d="M639.5 113.3 L632.1 115 L632.1 111.6 Z" fill="#000"/>
<path transform="translate(453.2 111.6)" d="M6.27 -9.6 L1.37 -3.2 L8.72 -3.2 M6.27 -9.6 L6.27 0 M11.23 -7.77 L11.72 -8.69 L12.21 -9.14 L13.19 -9.6 L15.15 -9.6 L16.13 -9.14 L16.62 -8.69 L17.11 -7.77 L17.11 -6.86 L16.62 -5.94 L15.64 -5.26 L14.17 -5.03 M14.17 -5.03 L15.64 -4.8 L16.62 -4.34 L17.36 -3.66 L17.6 -2.74 L17.6 -2.29 L17.11 -1.37 L16.13 -0.46 L14.66 0 L13.19 0 L11.72 -0.46 L11.23 -0.91 L10.74 -1.83 M22.66 -9.6 L21.39 -9.14 L20.54 -7.77 L20.11 -5.49 L20.11 -4.11 L20.54 -1.83 L21.39 -0.46 L22.66 0 L23.51 0 L24.78 -0.46 L25.63 -1.83 L26.06 -4.11 L26.06 -5.49 L25.63 -7.77 L24.78 -9.14 L23.51 -9.6 L22.66 -9.6 M28.34 -0.73 L28.07 -0.37 L28.34 0 L28.62 -0.37 L28.34 -0.73 M37.19 -9.6 L32.29 -9.6 L31.8 -5.49 L32.29 -5.94 L33.76 -6.4 L35.23 -6.4 L36.7 -5.94 L37.68 -5.03 L38.17 -3.66 L38.17 -2.74 L37.68 -1.37 L36.7 -0.46 L35.23 0 L33.76 0 L32.29 -0.46 L31.8 -0.91 L31.31 -1.83" fill="none" stroke="#4a4a4a" stroke-width="0.68" stroke-linecap="round" stroke-linejoin="round"/>
<line x1="384" y1="130.4" x2="384" y2="226" stroke="#000" stroke-width="0.55"/>
<line x1="470.7" y1="130.4" x2="470.7" y2="226" stroke="#000" stroke-width="0.55"/>
<line x1="384" y1="132.4" x2="470.7" y2="132.4" stroke="#000" stroke-width="0.55"/>
<path d="M384 132.4 L391.4 130.7 L391.4 134.1 Z" fill="#000"/>
<path d="M470.7 132.4 L463.3 134.1 L463.3 130.7 Z" fill="#000"/>
<path transform="translate(417.6 130.2)" d="M1.14 -7.77 L2.97 -9.6 L2.97 0 M1.14 0 L4.8 0 M7.09 -7.77 L8.91 -9.6 L8.91 0 M7.09 0 L10.74 0 M13.75 -7.31 L13.75 -7.77 L14.24 -8.69 L14.73 -9.14 L15.71 -9.6 L17.67 -9.6 L18.64 -9.14 L19.13 -8.69 L19.62 -7.77 L19.62 -6.86 L19.13 -5.94 L18.16 -4.57 L13.26 0 L20.11 0" fill="none" stroke="#4a4a4a" stroke-width="0.68" stroke-linecap="round" stroke-linejoin="round"/>
<line x1="408.4" y1="149.4" x2="408.4" y2="228.6" stroke="#000" stroke-width="0.55"/>
<line x1="446.7" y1="149.4" x2="446.7" y2="228.6" stroke="#000" stroke-width="0.55"/>
<line x1="408.4" y1="151.4" x2="446.7" y2="151.4" stroke="#000" stroke-width="0.55"/>
<path d="M408.4 151.4 L415.8 149.7 L415.8 153.1 Z" fill="#000"/>
<path d="M446.7 151.4 L439.3 153.1 L439.3 149.7 Z" fill="#000"/>
<path transform="translate(419.2 149.4)" d="M7.25 -9.6 L2.35 -9.6 L1.86 -5.49 L2.35 -5.94 L3.82 -6.4 L5.29 -6.4 L6.76 -5.94 L7.74 -5.03 L8.23 -3.66 L8.23 -2.74 L7.74 -1.37 L6.76 -0.46 L5.29 0 L3.82 0 L2.35 -0.46 L1.86 -0.91 L1.37 -1.83 M13.29 -9.6 L12.02 -9.14 L11.17 -7.77 L10.74 -5.49 L10.74 -4.11 L11.17 -1.83 L12.02 -0.46 L13.29 0 L14.14 0 L15.41 -0.46 L16.26 -1.83 L16.69 -4.11 L16.69 -5.49 L16.26 -7.77 L15.41 -9.14 L14.14 -9.6 L13.29 -9.6" fill="none" stroke="#4a4a4a" stroke-width="0.68" stroke-linecap="round" stroke-linejoin="round"/>
<line x1="416" y1="170.8" x2="427.6" y2="170.8" stroke="#000" stroke-width="0.55"/>
<line x1="446.7" y1="170.8" x2="457.2" y2="170.8" stroke="#000" stroke-width="0.55"/>
<path d="M427.6 170.8 L420.2 172.5 L420.2 169.1 Z" fill="#000"/>
<path d="M446.7 170.8 L454.1 169.1 L454.1 172.5 Z" fill="#000"/>
<line x1="427.6" y1="170.8" x2="446.7" y2="170.8" stroke="#000" stroke-width="0.55"/>
<path transform="translate(428.3 169)" d="M1.86 -7.31 L1.86 -7.77 L2.35 -8.69 L2.84 -9.14 L3.82 -9.6 L5.78 -9.6 L6.76 -9.14 L7.25 -8.69 L7.74 -7.77 L7.74 -6.86 L7.25 -5.94 L6.27 -4.57 L1.37 0 L8.23 0 M16.62 -9.6 L11.72 -9.6 L11.23 -5.49 L11.72 -5.94 L13.19 -6.4 L14.66 -6.4 L16.13 -5.94 L17.11 -5.03 L17.6 -3.66 L17.6 -2.74 L17.11 -1.37 L16.13 -0.46 L14.66 0 L13.19 0 L11.72 -0.46 L11.23 -0.91 L10.74 -1.83" fill="none" stroke="#4a4a4a" stroke-width="0.68" stroke-linecap="round" stroke-linejoin="round"/>
<path transform="translate(485 131.4)" d="M0.9 0 L0.9 -9.5 L4.75 -3.17 L8.6 -9.5 L8.6 0 M12.02 -7.69 L12.51 -8.6 L12.99 -9.05 L13.96 -9.5 L15.9 -9.5 L16.87 -9.05 L17.35 -8.6 L17.84 -7.69 L17.84 -6.79 L17.35 -5.88 L16.38 -5.2 L14.93 -4.98 M14.93 -4.98 L16.38 -4.75 L17.35 -4.3 L18.08 -3.62 L18.32 -2.71 L18.32 -2.26 L17.84 -1.36 L16.87 -0.45 L15.41 0 L13.96 0 L12.51 -0.45 L12.02 -0.9 L11.54 -1.81 M21.29 -7.24 L21.29 -7.69 L21.78 -8.6 L22.26 -9.05 L23.23 -9.5 L25.17 -9.5 L26.14 -9.05 L26.63 -8.6 L27.11 -7.69 L27.11 -6.79 L26.63 -5.88 L25.66 -4.52 L20.81 0 L27.6 0 M30.54 -6.79 L36.87 0 M36.87 -6.79 L30.54 0 M39.81 -7.69 L41.62 -9.5 L41.62 0 M39.81 0 L43.43 0 M45.24 -0.72 L44.97 -0.36 L45.24 0 L45.51 -0.36 L45.24 -0.72 M53.99 -9.5 L49.15 -9.5 L48.66 -5.43 L49.15 -5.88 L50.6 -6.33 L52.06 -6.33 L53.51 -5.88 L54.48 -4.98 L54.96 -3.62 L54.96 -2.71 L54.48 -1.36 L53.51 -0.45 L52.06 0 L50.6 0 L49.15 -0.45 L48.66 -0.9 L48.18 -1.81" fill="none" stroke="#4a4a4a" stroke-width="0.68" stroke-linecap="round" stroke-linejoin="round"/>
<path d="M536.7 134.4 L486 134.4 L408.6 226.9" fill="none" stroke="#000" stroke-width="0.55" stroke-linejoin="round"/>
<path d="M408.6 226.9 L412.05 220.13 L414.65 222.32 Z" fill="#000"/>
<path transform="translate(485 155)" d="M0.9 0 L0.9 -9.5 L4.75 -3.17 L8.6 -9.5 L8.6 0 M12.02 -7.69 L12.51 -8.6 L12.99 -9.05 L13.96 -9.5 L15.9 -9.5 L16.87 -9.05 L17.35 -8.6 L17.84 -7.69 L17.84 -6.79 L17.35 -5.88 L16.38 -5.2 L14.93 -4.98 M14.93 -4.98 L16.38 -4.75 L17.35 -4.3 L18.08 -3.62 L18.32 -2.71 L18.32 -2.26 L17.84 -1.36 L16.87 -0.45 L15.41 0 L13.96 0 L12.51 -0.45 L12.02 -0.9 L11.54 -1.81 M21.29 -7.24 L21.29 -7.69 L21.78 -8.6 L22.26 -9.05 L23.23 -9.5 L25.17 -9.5 L26.14 -9.05 L26.63 -8.6 L27.11 -7.69 L27.11 -6.79 L26.63 -5.88 L25.66 -4.52 L20.81 0 L27.6 0 M30.54 -6.79 L36.87 0 M36.87 -6.79 L30.54 0 M39.81 -7.69 L41.62 -9.5 L41.62 0 M39.81 0 L43.43 0 M45.24 -0.72 L44.97 -0.36 L45.24 0 L45.51 -0.36 L45.24 -0.72 M53.99 -9.5 L49.15 -9.5 L48.66 -5.43 L49.15 -5.88 L50.6 -6.33 L52.06 -6.33 L53.51 -5.88 L54.48 -4.98 L54.96 -3.62 L54.96 -2.71 L54.48 -1.36 L53.51 -0.45 L52.06 0 L50.6 0 L49.15 -0.45 L48.66 -0.9 L48.18 -1.81" fill="none" stroke="#4a4a4a" stroke-width="0.68" stroke-linecap="round" stroke-linejoin="round"/>
<path d="M536.7 158.3 L486 158.3 L447.1 226.9" fill="none" stroke="#000" stroke-width="0.55" stroke-linejoin="round"/>
<path d="M447.1 226.9 L449.27 219.62 L452.23 221.3 Z" fill="#000"/>
<line x1="633.5" y1="220.4" x2="633.5" y2="263" stroke="#000" stroke-width="0.55"/>
<line x1="623" y1="222.4" x2="633.5" y2="222.4" stroke="#000" stroke-width="0.55"/>
<line x1="639.5" y1="222.4" x2="657.1" y2="222.4" stroke="#000" stroke-width="0.55"/>
<path d="M633.5 222.4 L626.1 224.1 L626.1 220.7 Z" fill="#000"/>
<path d="M639.5 222.4 L646.9 220.7 L646.9 224.1 Z" fill="#000"/>
<line x1="633.5" y1="222.4" x2="639.5" y2="222.4" stroke="#000" stroke-width="0.55"/>
<path transform="translate(648.8 220.5)" d="M8.23 -9.6 L3.33 0 M1.37 -9.6 L8.23 -9.6" fill="none" stroke="#4a4a4a" stroke-width="0.68" stroke-linecap="round" stroke-linejoin="round"/>
<line x1="636" y1="313.2" x2="667" y2="313.2" stroke="#000" stroke-width="0.55"/>
<line x1="636" y1="337.8" x2="667" y2="337.8" stroke="#000" stroke-width="0.55"/>
<line x1="665.4" y1="275" x2="665.4" y2="348.6" stroke="#000" stroke-width="0.55"/>
<path d="M665.4 313.2 L663.7 305.8 L667.1 305.8 Z" fill="#000"/>
<path d="M665.4 337.8 L667.1 345.2 L663.7 345.2 Z" fill="#000"/>
<path transform="translate(663.4 302.6) rotate(-90)" d="M4.57 -6.86 L3.2 -6.4 L2.29 -5.49 L1.83 -4.11 L1.83 -2.74 L2.29 -1.37 L3.2 -0.46 L4.57 0 L5.94 -0.46 L6.86 -1.37 L7.31 -2.74 L7.31 -4.11 L6.86 -5.49 L5.94 -6.4 L4.57 -6.86 M1.37 0.91 L7.77 -7.77 M11 -7.77 L11.49 -8.69 L11.98 -9.14 L12.96 -9.6 L14.92 -9.6 L15.9 -9.14 L16.39 -8.69 L16.88 -7.77 L16.88 -6.86 L16.39 -5.94 L15.41 -5.26 L13.94 -5.03 M13.94 -5.03 L15.41 -4.8 L16.39 -4.34 L17.13 -3.66 L17.37 -2.74 L17.37 -2.29 L16.88 -1.37 L15.9 -0.46 L14.43 0 L12.96 0 L11.49 -0.46 L11 -0.91 L10.51 -1.83 M20.38 -7.31 L20.38 -7.77 L20.87 -8.69 L21.36 -9.14 L22.33 -9.6 L24.29 -9.6 L25.27 -9.14 L25.76 -8.69 L26.25 -7.77 L26.25 -6.86 L25.76 -5.94 L24.78 -4.57 L19.89 0 L26.74 0" fill="none" stroke="#4a4a4a" stroke-width="0.68" stroke-linecap="round" stroke-linejoin="round"/>
<line x1="543.6" y1="249" x2="605" y2="249" stroke="#555" stroke-width="0.55"/>
<line x1="543.6" y1="402" x2="605" y2="402" stroke="#555" stroke-width="0.55"/>
<line x1="603.1" y1="249" x2="603.1" y2="402" stroke="#000" stroke-width="0.55"/>
<path d="M603.1 249 L604.8 256.4 L601.4 256.4 Z" fill="#000"/>
<path d="M603.1 402 L601.4 394.6 L604.8 394.6 Z" fill="#000"/>
<path transform="translate(601.4 341.4) rotate(-90)" d="M4.57 -6.86 L3.2 -6.4 L2.29 -5.49 L1.83 -4.11 L1.83 -2.74 L2.29 -1.37 L3.2 -0.46 L4.57 0 L5.94 -0.46 L6.86 -1.37 L7.31 -2.74 L7.31 -4.11 L6.86 -5.49 L5.94 -6.4 L4.57 -6.86 M1.37 0.91 L7.77 -7.77 M10.29 -7.77 L12.11 -9.6 L12.11 0 M10.29 0 L13.94 0 M22.82 -6.4 L22.33 -5.03 L21.36 -4.11 L19.89 -3.66 L19.4 -3.66 L17.93 -4.11 L16.95 -5.03 L16.46 -6.4 L16.46 -6.86 L16.95 -8.23 L17.93 -9.14 L19.4 -9.6 L19.89 -9.6 L21.36 -9.14 L22.33 -8.23 L22.82 -6.4 L22.82 -4.11 L22.33 -1.83 L21.36 -0.46 L19.89 0 L18.91 0 L17.44 -0.46 L16.95 -1.37 M28.28 -9.6 L26.81 -9.14 L26.32 -8.23 L26.32 -7.31 L26.81 -6.4 L27.79 -5.94 L29.75 -5.49 L31.22 -5.03 L32.2 -4.11 L32.69 -3.2 L32.69 -1.83 L32.2 -0.91 L31.71 -0.46 L30.24 0 L28.28 0 L26.81 -0.46 L26.32 -0.91 L25.83 -1.83 L25.83 -3.2 L26.32 -4.11 L27.3 -5.03 L28.77 -5.49 L30.73 -5.94 L31.71 -6.4 L32.2 -7.31 L32.2 -8.23 L31.71 -9.14 L30.24 -9.6 L28.28 -9.6" fill="none" stroke="#4a4a4a" stroke-width="0.68" stroke-linecap="round" stroke-linejoin="round"/>
<line x1="348.8" y1="266" x2="348.8" y2="322.3" stroke="#000" stroke-width="0.55"/>
<line x1="352.8" y1="266" x2="352.8" y2="488" stroke="#000" stroke-width="0.55"/>
<line x1="330.8" y1="268.3" x2="364" y2="268.3" stroke="#000" stroke-width="0.55"/>
<path d="M348.8 268.3 L341.4 270 L341.4 266.6 Z" fill="#000"/>
<path d="M352.8 268.3 L360.2 266.6 L360.2 270 Z" fill="#000"/>
<path transform="translate(330.2 266.2)" d="M7.25 -9.6 L2.35 -9.6 L1.86 -5.49 L2.35 -5.94 L3.82 -6.4 L5.29 -6.4 L6.76 -5.94 L7.74 -5.03 L8.23 -3.66 L8.23 -2.74 L7.74 -1.37 L6.76 -0.46 L5.29 0 L3.82 0 L2.35 -0.46 L1.86 -0.91 L1.37 -1.83" fill="none" stroke="#4a4a4a" stroke-width="0.68" stroke-linecap="round" stroke-linejoin="round"/>
<line x1="310.3" y1="285.4" x2="310.3" y2="322.3" stroke="#000" stroke-width="0.55"/>
<line x1="310.3" y1="287.4" x2="348.8" y2="287.4" stroke="#000" stroke-width="0.55"/>
<path d="M310.3 287.4 L317.7 285.7 L317.7 289.1 Z" fill="#000"/>
<path d="M348.8 287.4 L341.4 289.1 L341.4 285.7 Z" fill="#000"/>
<path transform="translate(321.4 285.5)" d="M7.25 -9.6 L2.35 -9.6 L1.86 -5.49 L2.35 -5.94 L3.82 -6.4 L5.29 -6.4 L6.76 -5.94 L7.74 -5.03 L8.23 -3.66 L8.23 -2.74 L7.74 -1.37 L6.76 -0.46 L5.29 0 L3.82 0 L2.35 -0.46 L1.86 -0.91 L1.37 -1.83 M13.29 -9.6 L12.02 -9.14 L11.17 -7.77 L10.74 -5.49 L10.74 -4.11 L11.17 -1.83 L12.02 -0.46 L13.29 0 L14.14 0 L15.41 -0.46 L16.26 -1.83 L16.69 -4.11 L16.69 -5.49 L16.26 -7.77 L15.41 -9.14 L14.14 -9.6 L13.29 -9.6" fill="none" stroke="#4a4a4a" stroke-width="0.68" stroke-linecap="round" stroke-linejoin="round"/>
<line x1="306.5" y1="336.4" x2="306.5" y2="365.4" stroke="#000" stroke-width="0.55"/>
<line x1="306.5" y1="363.3" x2="352.8" y2="363.3" stroke="#000" stroke-width="0.55"/>
<path d="M306.5 363.3 L313.9 361.6 L313.9 365 Z" fill="#000"/>
<path d="M352.8 363.3 L345.4 365 L345.4 361.6 Z" fill="#000"/>
<path transform="translate(321.3 361.4)" d="M7.74 -8.23 L7.25 -9.14 L5.78 -9.6 L4.8 -9.6 L3.33 -9.14 L2.35 -7.77 L1.86 -5.49 L1.86 -3.2 L2.35 -1.37 L3.33 -0.46 L4.8 0 L5.29 0 L6.76 -0.46 L7.74 -1.37 L8.23 -2.74 L8.23 -3.2 L7.74 -4.57 L6.76 -5.49 L5.29 -5.94 L4.8 -5.94 L3.33 -5.49 L2.35 -4.57 L1.86 -3.2 M13.29 -9.6 L12.02 -9.14 L11.17 -7.77 L10.74 -5.49 L10.74 -4.11 L11.17 -1.83 L12.02 -0.46 L13.29 0 L14.14 0 L15.41 -0.46 L16.26 -1.83 L16.69 -4.11 L16.69 -5.49 L16.26 -7.77 L15.41 -9.14 L14.14 -9.6 L13.29 -9.6" fill="none" stroke="#4a4a4a" stroke-width="0.68" stroke-linecap="round" stroke-linejoin="round"/>
<line x1="278.3" y1="314.4" x2="306.5" y2="314.4" stroke="#000" stroke-width="0.55"/>
<line x1="278.3" y1="336.4" x2="306.5" y2="336.4" stroke="#000" stroke-width="0.55"/>
<line x1="280.2" y1="265.6" x2="280.2" y2="346.4" stroke="#000" stroke-width="0.55"/>
<path d="M280.2 314.4 L278.5 307 L281.9 307 Z" fill="#000"/>
<path d="M280.2 336.4 L281.9 343.8 L278.5 343.8 Z" fill="#000"/>
<path transform="translate(278 303) rotate(-90)" d="M4.57 -6.86 L3.2 -6.4 L2.29 -5.49 L1.83 -4.11 L1.83 -2.74 L2.29 -1.37 L3.2 -0.46 L4.57 0 L5.94 -0.46 L6.86 -1.37 L7.31 -2.74 L7.31 -4.11 L6.86 -5.49 L5.94 -6.4 L4.57 -6.86 M1.37 0.91 L7.77 -7.77 M11 -7.31 L11 -7.77 L11.49 -8.69 L11.98 -9.14 L12.96 -9.6 L14.92 -9.6 L15.9 -9.14 L16.39 -8.69 L16.88 -7.77 L16.88 -6.86 L16.39 -5.94 L15.41 -4.57 L10.51 0 L17.37 0 M22.33 -9.6 L20.87 -9.14 L20.38 -8.23 L20.38 -7.31 L20.87 -6.4 L21.84 -5.94 L23.8 -5.49 L25.27 -5.03 L26.25 -4.11 L26.74 -3.2 L26.74 -1.83 L26.25 -0.91 L25.76 -0.46 L24.29 0 L22.33 0 L20.87 -0.46 L20.38 -0.91 L19.89 -1.83 L19.89 -3.2 L20.38 -4.11 L21.36 -5.03 L22.82 -5.49 L24.78 -5.94 L25.76 -6.4 L26.25 -7.31 L26.25 -8.23 L25.76 -9.14 L24.29 -9.6 L22.33 -9.6" fill="none" stroke="#4a4a4a" stroke-width="0.68" stroke-linecap="round" stroke-linejoin="round"/>
<path transform="translate(276.2 274) rotate(-90)" d="M1.31 -4.6 L1.53 -4.38 L1.75 -4.6 L1.53 -4.82 L1.31 -4.6 M1.53 -3.07 L1.53 0.66 L1.31 1.31 L0.88 1.53 L0.44 1.53 M6.34 -3.94 L6.1 -4.38 L5.4 -4.6 L4.93 -4.6 L4.22 -4.38 L3.76 -3.72 L3.52 -2.63 L3.52 -1.53 L3.76 -0.66 L4.22 -0.22 L4.93 0 L5.16 0 L5.87 -0.22 L6.34 -0.66 L6.57 -1.31 L6.57 -1.53 L6.34 -2.19 L5.87 -2.63 L5.16 -2.85 L4.93 -2.85 L4.22 -2.63 L3.76 -2.19 L3.52 -1.53" fill="none" stroke="#4a4a4a" stroke-width="0.6" stroke-linecap="round" stroke-linejoin="round"/>
<line x1="305" y1="467.4" x2="352.8" y2="467.4" stroke="#000" stroke-width="0.55"/>
<line x1="352.8" y1="467.4" x2="387.6" y2="467.4" stroke="#000" stroke-width="0.55"/>
<line x1="387.6" y1="467.4" x2="399" y2="467.4" stroke="#000" stroke-width="0.55"/>
<path d="M352.8 467.4 L345.4 469.1 L345.4 465.7 Z" fill="#000"/>
<path d="M387.6 467.4 L395 465.7 L395 469.1 Z" fill="#000"/>
<path transform="translate(308.8 465.4)" d="M5.01 -10.36 L4.1 -9.53 L3.19 -8.29 L2.28 -6.63 L1.82 -4.56 L1.82 -2.9 L2.28 -0.83 L3.19 0.83 L4.1 2.07 L5.01 2.9 M12.63 -8.7 L7.75 -2.9 L15.07 -2.9 M12.63 -8.7 L12.63 0 M22.95 -8.7 L18.07 -8.7 L17.58 -4.97 L18.07 -5.39 L19.53 -5.8 L21 -5.8 L22.46 -5.39 L23.44 -4.56 L23.92 -3.31 L23.92 -2.49 L23.44 -1.24 L22.46 -0.41 L21 0 L19.53 0 L18.07 -0.41 L17.58 -0.83 L17.09 -1.66 M26.43 -10.36 L27.34 -9.53 L28.25 -8.29 L29.17 -6.63 L29.62 -4.56 L29.62 -2.9 L29.17 -0.83 L28.25 0.83 L27.34 2.07 L26.43 2.9" fill="none" stroke="#4a4a4a" stroke-width="0.68" stroke-linecap="round" stroke-linejoin="round"/>
<line x1="352.8" y1="486.6" x2="401" y2="486.6" stroke="#000" stroke-width="0.55"/>
<path d="M352.8 486.6 L360.2 484.9 L360.2 488.3 Z" fill="#000"/>
<path d="M401 486.6 L393.6 488.3 L393.6 484.9 Z" fill="#000"/>
<path transform="translate(367.4 484.7)" d="M7.74 -8.23 L7.25 -9.14 L5.78 -9.6 L4.8 -9.6 L3.33 -9.14 L2.35 -7.77 L1.86 -5.49 L1.86 -3.2 L2.35 -1.37 L3.33 -0.46 L4.8 0 L5.29 0 L6.76 -0.46 L7.74 -1.37 L8.23 -2.74 L8.23 -3.2 L7.74 -4.57 L6.76 -5.49 L5.29 -5.94 L4.8 -5.94 L3.33 -5.49 L2.35 -4.57 L1.86 -3.2 M11.23 -7.77 L11.72 -8.69 L12.21 -9.14 L13.19 -9.6 L15.15 -9.6 L16.13 -9.14 L16.62 -8.69 L17.11 -7.77 L17.11 -6.86 L16.62 -5.94 L15.64 -5.26 L14.17 -5.03 M14.17 -5.03 L15.64 -4.8 L16.62 -4.34 L17.36 -3.66 L17.6 -2.74 L17.6 -2.29 L17.11 -1.37 L16.13 -0.46 L14.66 0 L13.19 0 L11.72 -0.46 L11.23 -0.91 L10.74 -1.83" fill="none" stroke="#4a4a4a" stroke-width="0.68" stroke-linecap="round" stroke-linejoin="round"/>
<line x1="401" y1="486.6" x2="509.4" y2="486.6" stroke="#000" stroke-width="0.55"/>
<path d="M401 486.6 L408.4 484.9 L408.4 488.3 Z" fill="#000"/>
<path d="M509.4 486.6 L502 488.3 L502 484.9 Z" fill="#000"/>
<path transform="translate(443.6 484.7)" d="M1.14 -7.77 L2.97 -9.6 L2.97 0 M1.14 0 L4.8 0 M12.21 -9.6 L7.31 -3.2 L14.66 -3.2 M12.21 -9.6 L12.21 0 M19.23 -9.6 L17.96 -9.14 L17.11 -7.77 L16.69 -5.49 L16.69 -4.11 L17.11 -1.83 L17.96 -0.46 L19.23 0 L20.08 0 L21.36 -0.46 L22.2 -1.83 L22.63 -4.11 L22.63 -5.49 L22.2 -7.77 L21.36 -9.14 L20.08 -9.6 L19.23 -9.6" fill="none" stroke="#4a4a4a" stroke-width="0.68" stroke-linecap="round" stroke-linejoin="round"/>
<line x1="387.6" y1="506" x2="523.6" y2="506" stroke="#000" stroke-width="0.55"/>
<path d="M387.6 506 L395 504.3 L395 507.7 Z" fill="#000"/>
<path d="M523.6 506 L516.2 507.7 L516.2 504.3 Z" fill="#000"/>
<path transform="translate(443.6 504)" d="M1.14 -7.77 L2.97 -9.6 L2.97 0 M1.14 0 L4.8 0 M14.17 -9.6 L9.27 0 M7.31 -9.6 L14.17 -9.6 M23.05 -8.23 L22.56 -9.14 L21.09 -9.6 L20.11 -9.6 L18.64 -9.14 L17.67 -7.77 L17.18 -5.49 L17.18 -3.2 L17.67 -1.37 L18.64 -0.46 L20.11 0 L20.6 0 L22.07 -0.46 L23.05 -1.37 L23.54 -2.74 L23.54 -3.2 L23.05 -4.57 L22.07 -5.49 L20.6 -5.94 L20.11 -5.94 L18.64 -5.49 L17.67 -4.57 L17.18 -3.2" fill="none" stroke="#4a4a4a" stroke-width="0.68" stroke-linecap="round" stroke-linejoin="round"/>
<line x1="387.6" y1="402" x2="387.6" y2="507.6" stroke="#000" stroke-width="0.55"/>
<line x1="401" y1="402" x2="401" y2="488.2" stroke="#000" stroke-width="0.55"/>
<line x1="416.6" y1="402" x2="416.6" y2="450" stroke="#000" stroke-width="0.55"/>
<line x1="494.4" y1="402" x2="494.4" y2="450" stroke="#000" stroke-width="0.55"/>
<line x1="504.6" y1="402" x2="504.6" y2="430.4" stroke="#000" stroke-width="0.55"/>
<line x1="509.4" y1="402" x2="509.4" y2="488.2" stroke="#000" stroke-width="0.55"/>
<line x1="514.3" y1="402" x2="514.3" y2="430.4" stroke="#000" stroke-width="0.55"/>
<line x1="523.6" y1="402" x2="523.6" y2="507.6" stroke="#000" stroke-width="0.55"/>
<line x1="390" y1="429" x2="475" y2="429" stroke="#000" stroke-width="0.55"/>
<path d="M401 429 L393.6 430.7 L393.6 427.3 Z" fill="#000"/>
<path d="M427.6 429 L435 427.3 L435 430.7 Z" fill="#000"/>
<path transform="translate(441.6 427)" d="M1.86 -7.77 L2.35 -8.69 L2.84 -9.14 L3.82 -9.6 L5.78 -9.6 L6.76 -9.14 L7.25 -8.69 L7.74 -7.77 L7.74 -6.86 L7.25 -5.94 L6.27 -5.26 L4.8 -5.03 M4.8 -5.03 L6.27 -4.8 L7.25 -4.34 L7.98 -3.66 L8.23 -2.74 L8.23 -2.29 L7.74 -1.37 L6.76 -0.46 L5.29 0 L3.82 0 L2.35 -0.46 L1.86 -0.91 L1.37 -1.83 M11.23 -7.77 L11.72 -8.69 L12.21 -9.14 L13.19 -9.6 L15.15 -9.6 L16.13 -9.14 L16.62 -8.69 L17.11 -7.77 L17.11 -6.86 L16.62 -5.94 L15.64 -5.26 L14.17 -5.03 M14.17 -5.03 L15.64 -4.8 L16.62 -4.34 L17.36 -3.66 L17.6 -2.74 L17.6 -2.29 L17.11 -1.37 L16.13 -0.46 L14.66 0 L13.19 0 L11.72 -0.46 L11.23 -0.91 L10.74 -1.83 M19.43 -0.73 L19.15 -0.37 L19.43 0 L19.7 -0.37 L19.43 -0.73 M28.28 -9.6 L23.38 -9.6 L22.89 -5.49 L23.38 -5.94 L24.85 -6.4 L26.32 -6.4 L27.79 -5.94 L28.77 -5.03 L29.26 -3.66 L29.26 -2.74 L28.77 -1.37 L27.79 -0.46 L26.32 0 L24.85 0 L23.38 -0.46 L22.89 -0.91 L22.4 -1.83" fill="none" stroke="#4a4a4a" stroke-width="0.68" stroke-linecap="round" stroke-linejoin="round"/>
<line x1="496" y1="428.8" x2="539" y2="428.8" stroke="#000" stroke-width="0.55"/>
<path d="M504.6 428.8 L497.2 430.5 L497.2 427.1 Z" fill="#000"/>
<path d="M514.3 428.8 L521.7 427.1 L521.7 430.5 Z" fill="#000"/>
<path transform="translate(523.6 426.9)" d="M1.14 -7.77 L2.97 -9.6 L2.97 0 M1.14 0 L4.8 0 M7.8 -7.31 L7.8 -7.77 L8.29 -8.69 L8.78 -9.14 L9.76 -9.6 L11.72 -9.6 L12.7 -9.14 L13.19 -8.69 L13.68 -7.77 L13.68 -6.86 L13.19 -5.94 L12.21 -4.57 L7.31 0 L14.17 0" fill="none" stroke="#4a4a4a" stroke-width="0.68" stroke-linecap="round" stroke-linejoin="round"/>
<line x1="377" y1="448.3" x2="464" y2="448.3" stroke="#000" stroke-width="0.55"/>
<path d="M387.6 448.3 L380.2 450 L380.2 446.6 Z" fill="#000"/>
<path d="M416.6 448.3 L424 446.6 L424 450 Z" fill="#000"/>
<path transform="translate(430.6 446.4)" d="M1.86 -7.77 L2.35 -8.69 L2.84 -9.14 L3.82 -9.6 L5.78 -9.6 L6.76 -9.14 L7.25 -8.69 L7.74 -7.77 L7.74 -6.86 L7.25 -5.94 L6.27 -5.26 L4.8 -5.03 M4.8 -5.03 L6.27 -4.8 L7.25 -4.34 L7.98 -3.66 L8.23 -2.74 L8.23 -2.29 L7.74 -1.37 L6.76 -0.46 L5.29 0 L3.82 0 L2.35 -0.46 L1.86 -0.91 L1.37 -1.83 M17.6 -9.6 L12.7 0 M10.74 -9.6 L17.6 -9.6 M19.43 -0.73 L19.15 -0.37 L19.43 0 L19.7 -0.37 L19.43 -0.73 M28.28 -9.6 L23.38 -9.6 L22.89 -5.49 L23.38 -5.94 L24.85 -6.4 L26.32 -6.4 L27.79 -5.94 L28.77 -5.03 L29.26 -3.66 L29.26 -2.74 L28.77 -1.37 L27.79 -0.46 L26.32 0 L24.85 0 L23.38 -0.46 L22.89 -0.91 L22.4 -1.83" fill="none" stroke="#4a4a4a" stroke-width="0.68" stroke-linecap="round" stroke-linejoin="round"/>
<line x1="483.6" y1="448.3" x2="571" y2="448.3" stroke="#000" stroke-width="0.55"/>
<path d="M494.4 448.3 L487 450 L487 446.6 Z" fill="#000"/>
<path d="M523.6 448.3 L531 446.6 L531 450 Z" fill="#000"/>
<path transform="translate(537.6 446.4)" d="M1.86 -7.77 L2.35 -8.69 L2.84 -9.14 L3.82 -9.6 L5.78 -9.6 L6.76 -9.14 L7.25 -8.69 L7.74 -7.77 L7.74 -6.86 L7.25 -5.94 L6.27 -5.26 L4.8 -5.03 M4.8 -5.03 L6.27 -4.8 L7.25 -4.34 L7.98 -3.66 L8.23 -2.74 L8.23 -2.29 L7.74 -1.37 L6.76 -0.46 L5.29 0 L3.82 0 L2.35 -0.46 L1.86 -0.91 L1.37 -1.83 M17.6 -9.6 L12.7 0 M10.74 -9.6 L17.6 -9.6 M19.43 -0.73 L19.15 -0.37 L19.43 0 L19.7 -0.37 L19.43 -0.73 M28.28 -9.6 L23.38 -9.6 L22.89 -5.49 L23.38 -5.94 L24.85 -6.4 L26.32 -6.4 L27.79 -5.94 L28.77 -5.03 L29.26 -3.66 L29.26 -2.74 L28.77 -1.37 L27.79 -0.46 L26.32 0 L24.85 0 L23.38 -0.46 L22.89 -0.91 L22.4 -1.83" fill="none" stroke="#4a4a4a" stroke-width="0.68" stroke-linecap="round" stroke-linejoin="round"/>
<line x1="633.6" y1="388" x2="633.6" y2="430" stroke="#000" stroke-width="0.55"/>
<line x1="648.4" y1="376" x2="648.4" y2="430" stroke="#000" stroke-width="0.55"/>
<line x1="622" y1="427.8" x2="633.6" y2="427.8" stroke="#000" stroke-width="0.55"/>
<path d="M633.6 427.8 L626.2 429.5 L626.2 426.1 Z" fill="#000"/>
<line x1="633.6" y1="427.8" x2="648.4" y2="427.8" stroke="#000" stroke-width="0.55"/>
<line x1="648.4" y1="427.8" x2="660" y2="427.8" stroke="#000" stroke-width="0.55"/>
<path d="M648.4 427.8 L655.8 426.1 L655.8 429.5 Z" fill="#000"/>
<path transform="translate(633.4 426.2)" d="M1.69 -6.63 L1.69 -7.04 L2.13 -7.87 L2.57 -8.29 L3.46 -8.7 L5.24 -8.7 L6.13 -8.29 L6.57 -7.87 L7.01 -7.04 L7.01 -6.21 L6.57 -5.39 L5.68 -4.14 L1.24 0 L7.46 0 M12.04 -8.7 L10.89 -8.29 L10.12 -7.04 L9.74 -4.97 L9.74 -3.73 L10.12 -1.66 L10.89 -0.41 L12.04 0 L12.81 0 L13.97 -0.41 L14.74 -1.66 L15.12 -3.73 L15.12 -4.97 L14.74 -7.04 L13.97 -8.29 L12.81 -8.7 L12.04 -8.7" fill="none" stroke="#4a4a4a" stroke-width="0.68" stroke-linecap="round" stroke-linejoin="round"/>
<line x1="648.4" y1="397" x2="671" y2="376" stroke="#000" stroke-width="0.55"/>
<line x1="648.4" y1="418" x2="675.6" y2="393" stroke="#000" stroke-width="0.55"/>
<line x1="661" y1="429" x2="675.6" y2="415" stroke="#000" stroke-width="0.55"/>
<line x1="427.6" y1="170.8" x2="427.6" y2="431" stroke="#000" stroke-width="0.55"/>
<defs><clipPath id="cpF"><path clip-rule="evenodd" d="M727 325.3 a76.5 76.5 0 1 0 153 0 a76.5 76.5 0 1 0 -153 0 Z M737.2 325.3 a66.3 66.3 0 1 0 132.6 0 a66.3 66.3 0 1 0 -132.6 0 Z"/></clipPath></defs>
<g clip-path="url(#cpF)">
<line x1="853.72" y1="282.6" x2="881" y2="282.6" stroke="#000" stroke-width="1.6"/>
<line x1="860.1" y1="291.6" x2="881" y2="291.6" stroke="#000" stroke-width="1.6"/>
<line x1="726" y1="299.6" x2="742.88" y2="299.6" stroke="#000" stroke-width="1.6"/>
<line x1="864.12" y1="299.6" x2="881" y2="299.6" stroke="#000" stroke-width="1.6"/>
<line x1="726" y1="308.6" x2="739.84" y2="308.6" stroke="#000" stroke-width="1.6"/>
<line x1="867.16" y1="308.6" x2="881" y2="308.6" stroke="#000" stroke-width="1.6"/>
<line x1="726" y1="317" x2="738.22" y2="317" stroke="#000" stroke-width="1.6"/>
<line x1="868.78" y1="317" x2="881" y2="317" stroke="#000" stroke-width="1.6"/>
<line x1="726" y1="325.4" x2="737.7" y2="325.4" stroke="#000" stroke-width="1.6"/>
<line x1="869.3" y1="325.4" x2="881" y2="325.4" stroke="#000" stroke-width="1.6"/>
<line x1="726" y1="334" x2="738.27" y2="334" stroke="#000" stroke-width="1.6"/>
<line x1="868.73" y1="334" x2="881" y2="334" stroke="#000" stroke-width="1.6"/>
<line x1="726" y1="342.4" x2="739.94" y2="342.4" stroke="#000" stroke-width="1.6"/>
<line x1="867.06" y1="342.4" x2="881" y2="342.4" stroke="#000" stroke-width="1.6"/>
<line x1="726" y1="350.9" x2="742.84" y2="350.9" stroke="#000" stroke-width="1.6"/>
<line x1="864.16" y1="350.9" x2="881" y2="350.9" stroke="#000" stroke-width="1.6"/>
<line x1="726" y1="359.3" x2="747.08" y2="359.3" stroke="#000" stroke-width="1.6"/>
<line x1="859.92" y1="359.3" x2="881" y2="359.3" stroke="#000" stroke-width="1.6"/>
<line x1="769.7" y1="380.3" x2="769.7" y2="402.8" stroke="#000" stroke-width="1.6"/>
<line x1="777.8" y1="380.3" x2="777.8" y2="402.8" stroke="#000" stroke-width="1.6"/>
<line x1="786.1" y1="380.3" x2="786.1" y2="402.8" stroke="#000" stroke-width="1.6"/>
<line x1="794.8" y1="380.3" x2="794.8" y2="402.8" stroke="#000" stroke-width="1.6"/>
<line x1="803.4" y1="380.3" x2="803.4" y2="402.8" stroke="#000" stroke-width="1.6"/>
<line x1="811.9" y1="380.3" x2="811.9" y2="402.8" stroke="#000" stroke-width="1.6"/>
<line x1="820.4" y1="380.3" x2="820.4" y2="402.8" stroke="#000" stroke-width="1.6"/>
<line x1="828.9" y1="380.3" x2="828.9" y2="402.8" stroke="#000" stroke-width="1.6"/>
<line x1="837.2" y1="380.3" x2="837.2" y2="402.8" stroke="#000" stroke-width="1.6"/>
</g>
<path d="M747.55 273.13 A76.5 76.5 0 0 0 736.59 362.39" fill="none" stroke="#000" stroke-width="1"/>
<path d="M762.96 390.18 A76.5 76.5 0 0 0 846.83 388.35" fill="none" stroke="#000" stroke-width="1"/>
<path d="M859.45 273.13 A76.5 76.5 0 0 1 866.92 368.08" fill="none" stroke="#000" stroke-width="1"/>
<circle cx="803.5" cy="325.3" r="66.3" fill="none" stroke="#000" stroke-width="1"/>
<circle cx="803.5" cy="325.3" r="58" fill="none" stroke="#000" stroke-width="0.9"/>
<circle cx="803.5" cy="325.3" r="52.3" fill="none" stroke="#000" stroke-width="0.9"/>
<circle cx="803.5" cy="325.3" r="45.3" fill="none" stroke="#000" stroke-width="1.2"/>
<circle cx="803.5" cy="325.3" r="43.4" fill="none" stroke="#000" stroke-width="0.9"/>
<circle cx="803.5" cy="325.3" r="37" fill="none" stroke="#000" stroke-width="1.2"/>
<circle cx="803.5" cy="325.3" r="35.1" fill="none" stroke="#000" stroke-width="0.9"/>
<circle cx="803.5" cy="325.3" r="29.3" fill="none" stroke="#000" stroke-width="0.9"/>
<circle cx="803.5" cy="325.3" r="20.4" fill="none" stroke="#000" stroke-width="0.9"/>
<path transform="rotate(0 803.5 325.3)" d="M803.5 275.1 Q801.8 275.9 801.4 278.3 L801.2 279.9 Q799.25 280.7 799.25 283.1 L799.25 294.9 Q799.3 298.7 803.5 298.7 Q807.7 298.7 807.75 294.9 L807.75 283.1 Q807.75 280.7 805.8 279.9 L805.6 278.3 Q805.2 275.9 803.5 275.1 Z" fill="#fff" stroke="#000" stroke-width="1.0" stroke-linejoin="round"/>
<path transform="rotate(180 803.5 325.3)" d="M803.5 275.1 Q801.8 275.9 801.4 278.3 L801.2 279.9 Q799.25 280.7 799.25 283.1 L799.25 294.9 Q799.3 298.7 803.5 298.7 Q807.7 298.7 807.75 294.9 L807.75 283.1 Q807.75 280.7 805.8 279.9 L805.6 278.3 Q805.2 275.9 803.5 275.1 Z" fill="#fff" stroke="#000" stroke-width="1.0" stroke-linejoin="round"/>
<circle cx="803.5" cy="325.3" r="11.9" fill="none" stroke="#000" stroke-width="1"/>
<circle cx="803.5" cy="325.3" r="10.2" fill="none" stroke="#000" stroke-width="0.9"/>
<circle cx="803.5" cy="325.3" r="5.7" fill="none" stroke="#000" stroke-width="0.9"/>
<circle cx="803.5" cy="325.3" r="4.2" fill="none" stroke="#000" stroke-width="0.8"/>
<circle cx="803.5" cy="325.3" r="2.5" fill="none" stroke="#000" stroke-width="0.8"/>
<rect x="813.9" y="322.3" width="3.6" height="6" fill="#fff" stroke="#000" stroke-width="0.9" rx="0.8"/>
<line x1="723" y1="325.3" x2="927.5" y2="325.3" stroke="#000" stroke-width="0.5" stroke-dasharray="16 2 2 2"/>
<line x1="803.5" y1="171" x2="803.5" y2="407" stroke="#000" stroke-width="0.5" stroke-dasharray="16 2 2 2"/>
<line x1="769.4" y1="265.69" x2="769.4" y2="268.09" stroke="#000" stroke-width="1.9"/>
<line x1="777.6" y1="261.59" x2="777.6" y2="263.99" stroke="#000" stroke-width="1.9"/>
<line x1="786" y1="258.72" x2="786" y2="261.12" stroke="#000" stroke-width="1.9"/>
<line x1="794.6" y1="256.99" x2="794.6" y2="259.39" stroke="#000" stroke-width="1.9"/>
<line x1="803.1" y1="256.4" x2="803.1" y2="258.8" stroke="#000" stroke-width="1.9"/>
<line x1="811.7" y1="256.9" x2="811.7" y2="259.3" stroke="#000" stroke-width="1.9"/>
<line x1="820" y1="258.46" x2="820" y2="260.86" stroke="#000" stroke-width="1.9"/>
<line x1="828.6" y1="261.26" x2="828.6" y2="263.66" stroke="#000" stroke-width="1.9"/>
<line x1="837" y1="265.35" x2="837" y2="267.75" stroke="#000" stroke-width="1.9"/>
<path d="M764.5 247.4 L766.6 251.6 V270.2" fill="none" stroke="#000" stroke-width="0.9"/>
<path d="M843 247.4 L840.3 251.6 V270.2" fill="none" stroke="#000" stroke-width="0.9"/>
<line x1="766.6" y1="251" x2="840.3" y2="251" stroke="#000" stroke-width="0.6"/>
<rect x="754.4" y="197.3" width="104.4" height="50.1" fill="none" stroke="#000" stroke-width="1"/>
<line x1="756.8" y1="197.3" x2="756.8" y2="247.4" stroke="#000" stroke-width="0.7"/>
<line x1="857" y1="197.3" x2="857" y2="247.4" stroke="#000" stroke-width="0.7"/>
<path d="M753.3 238 L860.3 202.4 L860.3 206 L753.9 241.3 Z" fill="#fff" stroke="#000" stroke-width="0.9" stroke-linejoin="round"/>
<rect x="858.8" y="215.1" width="5.9" height="25.9" fill="none" stroke="#000" stroke-width="0.9"/>
<line x1="860.8" y1="215.1" x2="860.8" y2="241" stroke="#000" stroke-width="0.6"/>
<line x1="858.8" y1="227.7" x2="864.7" y2="227.7" stroke="#000" stroke-width="0.7"/>
<line x1="858.8" y1="229.6" x2="864.7" y2="229.6" stroke="#000" stroke-width="0.7"/>
<g transform="translate(843.25 268.53) rotate(35)">
<rect x="-6.7" y="-5.7" width="13.4" height="11.4" fill="#fff" stroke="#000" stroke-width="0.8"/>
<rect x="-5.2" y="-4.5" width="10.4" height="9" fill="none" stroke="#000" stroke-width="1.0"/>
<polygon points="3.9,0 1.95,3.38 -1.95,3.38 -3.9,0 -1.95,-3.38 1.95,-3.38" fill="none" stroke="#000" stroke-width="0.8"/>
<circle r="2.3" fill="#fff" stroke="#000" stroke-width="0.8"/>
</g>
<g transform="translate(746.73 285.55) rotate(-55)">
<rect x="-6.7" y="-5.7" width="13.4" height="11.4" fill="#fff" stroke="#000" stroke-width="0.8"/>
<rect x="-5.2" y="-4.5" width="10.4" height="9" fill="none" stroke="#000" stroke-width="1.0"/>
<polygon points="3.9,0 1.95,3.38 -1.95,3.38 -3.9,0 -1.95,-3.38 1.95,-3.38" fill="none" stroke="#000" stroke-width="0.8"/>
<circle r="2.3" fill="#fff" stroke="#000" stroke-width="0.8"/>
</g>
<g transform="translate(763.75 382.07) rotate(215)">
<rect x="-6.7" y="-5.7" width="13.4" height="11.4" fill="#fff" stroke="#000" stroke-width="0.8"/>
<rect x="-5.2" y="-4.5" width="10.4" height="9" fill="none" stroke="#000" stroke-width="1.0"/>
<polygon points="3.9,0 1.95,3.38 -1.95,3.38 -3.9,0 -1.95,-3.38 1.95,-3.38" fill="none" stroke="#000" stroke-width="0.8"/>
<circle r="2.3" fill="#fff" stroke="#000" stroke-width="0.8"/>
</g>
<g transform="translate(860.27 365.05) rotate(125)">
<rect x="-6.7" y="-5.7" width="13.4" height="11.4" fill="#fff" stroke="#000" stroke-width="0.8"/>
<rect x="-5.2" y="-4.5" width="10.4" height="9" fill="none" stroke="#000" stroke-width="1.0"/>
<polygon points="3.9,0 1.95,3.38 -1.95,3.38 -3.9,0 -1.95,-3.38 1.95,-3.38" fill="none" stroke="#000" stroke-width="0.8"/>
<circle r="2.3" fill="#fff" stroke="#000" stroke-width="0.8"/>
</g>
<path d="M746.3 264.4 L750.7 268.8 L746.3 273.2 L741.9 268.8 Z" fill="#fff" stroke="#000" stroke-width="0.9" stroke-linejoin="round"/>
<path d="M859.8 264.4 L864.2 268.8 L859.8 273.2 L855.4 268.8 Z" fill="#fff" stroke="#000" stroke-width="0.9" stroke-linejoin="round"/>
<path d="M859.8 273.2 L854.4 282.2 L862.6 282.2" fill="none" stroke="#000" stroke-width="0.9" stroke-linejoin="round"/>
<path d="M858.2 277 L856.6 281 L860.6 281 Z" fill="none" stroke="#000" stroke-width="0.7" stroke-linejoin="round"/>
<path d="M853.4 268.8 L850.6 270.6 L855.4 268.8" fill="none" stroke="#000" stroke-width="0.8" stroke-linejoin="round"/>
<path d="M746.3 273.2 L748.6 277.6 L751.5 275.2" fill="none" stroke="#000" stroke-width="0.8" stroke-linejoin="round"/>
<path d="M753.6 270.3 L762 260.8 L762 273.4 L757.8 270.6 L753.6 270.3" fill="none" stroke="#000" stroke-width="0.9" stroke-linejoin="round"/>
<path d="M756.6 268.6 L760.6 263.8 L760.6 271.4 Z" fill="none" stroke="#000" stroke-width="0.7" stroke-linejoin="round"/>
<line x1="762" y1="260.8" x2="766.6" y2="258.4" stroke="#000" stroke-width="0.9"/>
<line x1="750.4" y1="273.2" x2="753.6" y2="270.3" stroke="#000" stroke-width="0.9"/>
<rect x="727.6" y="393.1" width="32.8" height="9.4" fill="#fff" stroke="#000" stroke-width="1"/>
<line x1="730.5" y1="393.1" x2="730.5" y2="402.5" stroke="#000" stroke-width="0.7"/>
<line x1="747.6" y1="393.8" x2="747.6" y2="402" stroke="#888" stroke-width="0.8" stroke-dasharray="1.6 1.2"/>
<line x1="741.6" y1="393.8" x2="741.6" y2="402" stroke="#888" stroke-width="0.8" stroke-dasharray="1.6 1.2"/>
<line x1="735.8" y1="393.8" x2="735.8" y2="402" stroke="#888" stroke-width="0.8" stroke-dasharray="1.6 1.2"/>
<line x1="733.8" y1="393.1" x2="739.8" y2="362.5" stroke="#000" stroke-width="0.9"/>
<rect x="733.8" y="370.3" width="3.6" height="8.8" fill="#fff" stroke="#000" stroke-width="0.8"/>
<rect x="753.4" y="383.2" width="7" height="9.9" fill="none" stroke="#000" stroke-width="0.8"/>
<line x1="757.4" y1="383.2" x2="757.4" y2="393.1" stroke="#000" stroke-width="0.6"/>
<rect x="846.6" y="393.1" width="32.8" height="9.4" fill="#fff" stroke="#000" stroke-width="1"/>
<line x1="876.5" y1="393.1" x2="876.5" y2="402.5" stroke="#000" stroke-width="0.7"/>
<line x1="859.4" y1="393.8" x2="859.4" y2="402" stroke="#888" stroke-width="0.8" stroke-dasharray="1.6 1.2"/>
<line x1="865.4" y1="393.8" x2="865.4" y2="402" stroke="#888" stroke-width="0.8" stroke-dasharray="1.6 1.2"/>
<line x1="871.2" y1="393.8" x2="871.2" y2="402" stroke="#888" stroke-width="0.8" stroke-dasharray="1.6 1.2"/>
<line x1="873.2" y1="393.1" x2="867.2" y2="362.5" stroke="#000" stroke-width="0.9"/>
<rect x="869.6" y="370.3" width="3.6" height="8.8" fill="#fff" stroke="#000" stroke-width="0.8"/>
<rect x="846.6" y="383.2" width="7" height="9.9" fill="none" stroke="#000" stroke-width="0.8"/>
<line x1="849.6" y1="383.2" x2="849.6" y2="393.1" stroke="#000" stroke-width="0.6"/>
<line x1="742.1" y1="367.8" x2="751.8" y2="367.8" stroke="#000" stroke-width="1.6"/>
<line x1="737.5" y1="359.3" x2="746.7" y2="359.3" stroke="#000" stroke-width="1.4"/>
<line x1="855.2" y1="367.8" x2="863.5" y2="367.8" stroke="#000" stroke-width="1.2"/>
<line x1="807.4" y1="388.6" x2="810.6" y2="388.6" stroke="#000" stroke-width="1.5"/>
<line x1="754.4" y1="149.4" x2="754.4" y2="197.3" stroke="#000" stroke-width="0.55"/>
<line x1="858.8" y1="149.4" x2="858.8" y2="197.3" stroke="#000" stroke-width="0.55"/>
<line x1="754.4" y1="151.4" x2="858.8" y2="151.4" stroke="#000" stroke-width="0.55"/>
<path d="M754.4 151.4 L761.8 149.7 L761.8 153.1 Z" fill="#000"/>
<path d="M858.8 151.4 L851.4 153.1 L851.4 149.7 Z" fill="#000"/>
<path transform="translate(794.4 149.3)" d="M1.14 -7.77 L2.97 -9.6 L2.97 0 M1.14 0 L4.8 0 M7.8 -7.77 L8.29 -8.69 L8.78 -9.14 L9.76 -9.6 L11.72 -9.6 L12.7 -9.14 L13.19 -8.69 L13.68 -7.77 L13.68 -6.86 L13.19 -5.94 L12.21 -5.26 L10.74 -5.03 M10.74 -5.03 L12.21 -4.8 L13.19 -4.34 L13.93 -3.66 L14.17 -2.74 L14.17 -2.29 L13.68 -1.37 L12.7 -0.46 L11.23 0 L9.76 0 L8.29 -0.46 L7.8 -0.91 L7.31 -1.83 M22.56 -9.6 L17.67 -9.6 L17.18 -5.49 L17.67 -5.94 L19.13 -6.4 L20.6 -6.4 L22.07 -5.94 L23.05 -5.03 L23.54 -3.66 L23.54 -2.74 L23.05 -1.37 L22.07 -0.46 L20.6 0 L19.13 0 L17.67 -0.46 L17.18 -0.91 L16.69 -1.83" fill="none" stroke="#4a4a4a" stroke-width="0.68" stroke-linecap="round" stroke-linejoin="round"/>
<line x1="743.4" y1="171" x2="754.4" y2="171" stroke="#000" stroke-width="0.55"/>
<path d="M754.4 171 L747 172.7 L747 169.3 Z" fill="#000"/>
<line x1="754.4" y1="171" x2="803.5" y2="171" stroke="#000" stroke-width="0.55"/>
<line x1="803.5" y1="171" x2="814.4" y2="171" stroke="#000" stroke-width="0.55"/>
<path d="M803.5 171 L810.9 169.3 L810.9 172.7 Z" fill="#000"/>
<path transform="translate(763.6 169)" d="M7.74 -8.23 L7.25 -9.14 L5.78 -9.6 L4.8 -9.6 L3.33 -9.14 L2.35 -7.77 L1.86 -5.49 L1.86 -3.2 L2.35 -1.37 L3.33 -0.46 L4.8 0 L5.29 0 L6.76 -0.46 L7.74 -1.37 L8.23 -2.74 L8.23 -3.2 L7.74 -4.57 L6.76 -5.49 L5.29 -5.94 L4.8 -5.94 L3.33 -5.49 L2.35 -4.57 L1.86 -3.2 M11.23 -7.77 L11.72 -8.69 L12.21 -9.14 L13.19 -9.6 L15.15 -9.6 L16.13 -9.14 L16.62 -8.69 L17.11 -7.77 L17.11 -6.86 L16.62 -5.94 L15.64 -5.26 L14.17 -5.03 M14.17 -5.03 L15.64 -4.8 L16.62 -4.34 L17.36 -3.66 L17.6 -2.74 L17.6 -2.29 L17.11 -1.37 L16.13 -0.46 L14.66 0 L13.19 0 L11.72 -0.46 L11.23 -0.91 L10.74 -1.83 M19.43 -0.73 L19.15 -0.37 L19.43 0 L19.7 -0.37 L19.43 -0.73 M28.28 -9.6 L23.38 -9.6 L22.89 -5.49 L23.38 -5.94 L24.85 -6.4 L26.32 -6.4 L27.79 -5.94 L28.77 -5.03 L29.26 -3.66 L29.26 -2.74 L28.77 -1.37 L27.79 -0.46 L26.32 0 L24.85 0 L23.38 -0.46 L22.89 -0.91 L22.4 -1.83" fill="none" stroke="#4a4a4a" stroke-width="0.68" stroke-linecap="round" stroke-linejoin="round"/>
<line x1="858.8" y1="197.4" x2="927.2" y2="197.4" stroke="#000" stroke-width="0.55"/>
<line x1="925.6" y1="197.4" x2="925.6" y2="402.6" stroke="#000" stroke-width="0.55"/>
<path d="M925.6 197.4 L927.3 204.8 L923.9 204.8 Z" fill="#000"/>
<path d="M925.6 325.3 L923.9 317.9 L927.3 317.9 Z" fill="#000"/>
<path d="M925.6 325.3 L927.3 332.7 L923.9 332.7 Z" fill="#000"/>
<path d="M925.6 402.6 L923.9 395.2 L927.3 395.2 Z" fill="#000"/>
<path transform="translate(923.6 274.2) rotate(-90)" d="M1.14 -7.77 L2.97 -9.6 L2.97 0 M1.14 0 L4.8 0 M13.68 -8.23 L13.19 -9.14 L11.72 -9.6 L10.74 -9.6 L9.27 -9.14 L8.29 -7.77 L7.8 -5.49 L7.8 -3.2 L8.29 -1.37 L9.27 -0.46 L10.74 0 L11.23 0 L12.7 -0.46 L13.68 -1.37 L14.17 -2.74 L14.17 -3.2 L13.68 -4.57 L12.7 -5.49 L11.23 -5.94 L10.74 -5.94 L9.27 -5.49 L8.29 -4.57 L7.8 -3.2 M23.05 -8.23 L22.56 -9.14 L21.09 -9.6 L20.11 -9.6 L18.64 -9.14 L17.67 -7.77 L17.18 -5.49 L17.18 -3.2 L17.67 -1.37 L18.64 -0.46 L20.11 0 L20.6 0 L22.07 -0.46 L23.05 -1.37 L23.54 -2.74 L23.54 -3.2 L23.05 -4.57 L22.07 -5.49 L20.6 -5.94 L20.11 -5.94 L18.64 -5.49 L17.67 -4.57 L17.18 -3.2" fill="none" stroke="#4a4a4a" stroke-width="0.68" stroke-linecap="round" stroke-linejoin="round"/>
<line x1="864.7" y1="228.2" x2="908" y2="228.2" stroke="#000" stroke-width="0.55"/>
<line x1="905.9" y1="228.2" x2="905.9" y2="325.3" stroke="#000" stroke-width="0.55"/>
<path d="M905.9 228.2 L907.6 235.6 L904.2 235.6 Z" fill="#000"/>
<path d="M905.9 325.3 L904.2 317.9 L907.6 317.9 Z" fill="#000"/>
<path transform="translate(904 294.4) rotate(-90)" d="M1.14 -7.77 L2.97 -9.6 L2.97 0 M1.14 0 L4.8 0 M7.8 -7.31 L7.8 -7.77 L8.29 -8.69 L8.78 -9.14 L9.76 -9.6 L11.72 -9.6 L12.7 -9.14 L13.19 -8.69 L13.68 -7.77 L13.68 -6.86 L13.19 -5.94 L12.21 -4.57 L7.31 0 L14.17 0 M22.56 -9.6 L17.67 -9.6 L17.18 -5.49 L17.67 -5.94 L19.13 -6.4 L20.6 -6.4 L22.07 -5.94 L23.05 -5.03 L23.54 -3.66 L23.54 -2.74 L23.05 -1.37 L22.07 -0.46 L20.6 0 L19.13 0 L17.67 -0.46 L17.18 -0.91 L16.69 -1.83 M25.37 -0.73 L25.1 -0.37 L25.37 0 L25.65 -0.37 L25.37 -0.73 M34.22 -9.6 L29.32 -9.6 L28.83 -5.49 L29.32 -5.94 L30.79 -6.4 L32.26 -6.4 L33.73 -5.94 L34.71 -5.03 L35.2 -3.66 L35.2 -2.74 L34.71 -1.37 L33.73 -0.46 L32.26 0 L30.79 0 L29.32 -0.46 L28.83 -0.91 L28.34 -1.83" fill="none" stroke="#4a4a4a" stroke-width="0.68" stroke-linecap="round" stroke-linejoin="round"/>
<path transform="translate(923.6 382.6) rotate(-90)" d="M1.14 -7.77 L2.97 -9.6 L2.97 0 M1.14 0 L4.8 0 M9.86 -9.6 L8.59 -9.14 L7.74 -7.77 L7.31 -5.49 L7.31 -4.11 L7.74 -1.83 L8.59 -0.46 L9.86 0 L10.71 0 L11.98 -0.46 L12.83 -1.83 L13.26 -4.11 L13.26 -5.49 L12.83 -7.77 L11.98 -9.14 L10.71 -9.6 L9.86 -9.6 M18.78 -9.6 L17.5 -9.14 L16.65 -7.77 L16.23 -5.49 L16.23 -4.11 L16.65 -1.83 L17.5 -0.46 L18.78 0 L19.62 0 L20.9 -0.46 L21.75 -1.83 L22.17 -4.11 L22.17 -5.49 L21.75 -7.77 L20.9 -9.14 L19.62 -9.6 L18.78 -9.6" fill="none" stroke="#4a4a4a" stroke-width="0.68" stroke-linecap="round" stroke-linejoin="round"/>
<path transform="translate(923.6 360.4) rotate(-90)" d="M0.88 -2.27 L3.66 -2.27 M6.71 -5.3 L6 -5.05 L5.53 -4.29 L5.3 -3.03 L5.3 -2.27 L5.53 -1.01 L6 -0.25 L6.71 0 L7.17 0 L7.88 -0.25 L8.35 -1.01 L8.58 -2.27 L8.58 -3.03 L8.35 -4.29 L7.88 -5.05 L7.17 -5.3 L6.71 -5.3 M9.84 -0.4 L9.69 -0.2 L9.84 0 L9.99 -0.2 L9.84 -0.4 M14.73 -5.3 L12.02 -5.3 L11.75 -3.03 L12.02 -3.28 L12.84 -3.53 L13.65 -3.53 L14.46 -3.28 L15 -2.78 L15.27 -2.02 L15.27 -1.51 L15 -0.76 L14.46 -0.25 L13.65 0 L12.84 0 L12.02 -0.25 L11.75 -0.5 L11.48 -1.01" fill="none" stroke="#4a4a4a" stroke-width="0.55" stroke-linecap="round" stroke-linejoin="round"/>
<line x1="879.4" y1="393.3" x2="907.6" y2="393.3" stroke="#000" stroke-width="0.55"/>
<line x1="879.4" y1="402.6" x2="927.4" y2="402.6" stroke="#000" stroke-width="0.55"/>
<line x1="905.9" y1="382.4" x2="905.9" y2="393.3" stroke="#000" stroke-width="0.55"/>
<path d="M905.9 393.3 L904.2 385.9 L907.6 385.9 Z" fill="#000"/>
<line x1="905.9" y1="393.3" x2="905.9" y2="402.6" stroke="#000" stroke-width="0.55"/>
<line x1="905.9" y1="402.6" x2="905.9" y2="427.2" stroke="#000" stroke-width="0.55"/>
<path d="M905.9 402.6 L907.6 410 L904.2 410 Z" fill="#000"/>
<path transform="translate(903.8 426.4) rotate(-90)" d="M1.14 -7.77 L2.97 -9.6 L2.97 0 M1.14 0 L4.8 0 M7.8 -7.31 L7.8 -7.77 L8.29 -8.69 L8.78 -9.14 L9.76 -9.6 L11.72 -9.6 L12.7 -9.14 L13.19 -8.69 L13.68 -7.77 L13.68 -6.86 L13.19 -5.94 L12.21 -4.57 L7.31 0 L14.17 0" fill="none" stroke="#4a4a4a" stroke-width="0.68" stroke-linecap="round" stroke-linejoin="round"/>
<line x1="727.5" y1="402.5" x2="727.5" y2="488.4" stroke="#000" stroke-width="0.55"/>
<line x1="735" y1="402.5" x2="735" y2="430.6" stroke="#000" stroke-width="0.55"/>
<line x1="741.6" y1="402.5" x2="741.6" y2="450" stroke="#000" stroke-width="0.55"/>
<line x1="748.2" y1="402.5" x2="748.2" y2="430.6" stroke="#000" stroke-width="0.55"/>
<line x1="760.2" y1="402.5" x2="760.2" y2="469.4" stroke="#000" stroke-width="0.55"/>
<line x1="865.8" y1="402.5" x2="865.8" y2="450" stroke="#000" stroke-width="0.55"/>
<line x1="879.4" y1="402.5" x2="879.4" y2="488.4" stroke="#000" stroke-width="0.55"/>
<line x1="724.6" y1="429" x2="773" y2="429" stroke="#000" stroke-width="0.55"/>
<path d="M735 429 L727.6 430.7 L727.6 427.3 Z" fill="#000"/>
<path d="M748.2 429 L755.6 427.3 L755.6 430.7 Z" fill="#000"/>
<path transform="translate(757.8 427)" d="M1.14 -7.77 L2.97 -9.6 L2.97 0 M1.14 0 L4.8 0 M13.68 -8.23 L13.19 -9.14 L11.72 -9.6 L10.74 -9.6 L9.27 -9.14 L8.29 -7.77 L7.8 -5.49 L7.8 -3.2 L8.29 -1.37 L9.27 -0.46 L10.74 0 L11.23 0 L12.7 -0.46 L13.68 -1.37 L14.17 -2.74 L14.17 -3.2 L13.68 -4.57 L12.7 -5.49 L11.23 -5.94 L10.74 -5.94 L9.27 -5.49 L8.29 -4.57 L7.8 -3.2" fill="none" stroke="#4a4a4a" stroke-width="0.68" stroke-linecap="round" stroke-linejoin="round"/>
<line x1="741.6" y1="448.1" x2="865.8" y2="448.1" stroke="#000" stroke-width="0.55"/>
<path d="M741.6 448.1 L749 446.4 L749 449.8 Z" fill="#000"/>
<path d="M865.8 448.1 L858.4 449.8 L858.4 446.4 Z" fill="#000"/>
<path transform="translate(792.2 446.2)" d="M1.14 -7.77 L2.97 -9.6 L2.97 0 M1.14 0 L4.8 0 M13.68 -8.23 L13.19 -9.14 L11.72 -9.6 L10.74 -9.6 L9.27 -9.14 L8.29 -7.77 L7.8 -5.49 L7.8 -3.2 L8.29 -1.37 L9.27 -0.46 L10.74 0 L11.23 0 L12.7 -0.46 L13.68 -1.37 L14.17 -2.74 L14.17 -3.2 L13.68 -4.57 L12.7 -5.49 L11.23 -5.94 L10.74 -5.94 L9.27 -5.49 L8.29 -4.57 L7.8 -3.2 M19.23 -9.6 L17.96 -9.14 L17.11 -7.77 L16.69 -5.49 L16.69 -4.11 L17.11 -1.83 L17.96 -0.46 L19.23 0 L20.08 0 L21.36 -0.46 L22.2 -1.83 L22.63 -4.11 L22.63 -5.49 L22.2 -7.77 L21.36 -9.14 L20.08 -9.6 L19.23 -9.6" fill="none" stroke="#4a4a4a" stroke-width="0.68" stroke-linecap="round" stroke-linejoin="round"/>
<line x1="727.5" y1="467.7" x2="760.2" y2="467.7" stroke="#000" stroke-width="0.55"/>
<path d="M727.5 467.7 L734.9 466 L734.9 469.4 Z" fill="#000"/>
<path d="M760.2 467.7 L752.8 469.4 L752.8 466 Z" fill="#000"/>
<path transform="translate(735.6 465.8)" d="M6.27 -9.6 L1.37 -3.2 L8.72 -3.2 M6.27 -9.6 L6.27 0 M11.23 -7.31 L11.23 -7.77 L11.72 -8.69 L12.21 -9.14 L13.19 -9.6 L15.15 -9.6 L16.13 -9.14 L16.62 -8.69 L17.11 -7.77 L17.11 -6.86 L16.62 -5.94 L15.64 -4.57 L10.74 0 L17.6 0" fill="none" stroke="#4a4a4a" stroke-width="0.68" stroke-linecap="round" stroke-linejoin="round"/>
<line x1="727.5" y1="486.8" x2="879.4" y2="486.8" stroke="#000" stroke-width="0.55"/>
<path d="M727.5 486.8 L734.9 485.1 L734.9 488.5 Z" fill="#000"/>
<path d="M879.4 486.8 L872 488.5 L872 485.1 Z" fill="#000"/>
<path transform="translate(792.2 484.9)" d="M1.14 -7.77 L2.97 -9.6 L2.97 0 M1.14 0 L4.8 0 M13.68 -6.4 L13.19 -5.03 L12.21 -4.11 L10.74 -3.66 L10.25 -3.66 L8.78 -4.11 L7.8 -5.03 L7.31 -6.4 L7.31 -6.86 L7.8 -8.23 L8.78 -9.14 L10.25 -9.6 L10.74 -9.6 L12.21 -9.14 L13.19 -8.23 L13.68 -6.4 L13.68 -4.11 L13.19 -1.83 L12.21 -0.46 L10.74 0 L9.76 0 L8.29 -0.46 L7.8 -1.37 M23.05 -8.23 L22.56 -9.14 L21.09 -9.6 L20.11 -9.6 L18.64 -9.14 L17.67 -7.77 L17.18 -5.49 L17.18 -3.2 L17.67 -1.37 L18.64 -0.46 L20.11 0 L20.6 0 L22.07 -0.46 L23.05 -1.37 L23.54 -2.74 L23.54 -3.2 L23.05 -4.57 L22.07 -5.49 L20.6 -5.94 L20.11 -5.94 L18.64 -5.49 L17.67 -4.57 L17.18 -3.2" fill="none" stroke="#4a4a4a" stroke-width="0.68" stroke-linecap="round" stroke-linejoin="round"/>
<line x1="546.6" y1="551.9" x2="974.5" y2="551.9" stroke="#333" stroke-width="0.8"/>
<line x1="546.6" y1="551.9" x2="546.6" y2="682.4" stroke="#333" stroke-width="0.8"/>
<line x1="668.4" y1="551.9" x2="668.4" y2="682.4" stroke="#333" stroke-width="0.8"/>
<line x1="789.4" y1="551.9" x2="789.4" y2="682.4" stroke="#333" stroke-width="0.8"/>
<line x1="546.6" y1="579.7" x2="668.4" y2="579.7" stroke="#333" stroke-width="0.8"/>
<line x1="546.6" y1="639.7" x2="668.4" y2="639.7" stroke="#333" stroke-width="0.8"/>
<line x1="546.6" y1="670.6" x2="668.4" y2="670.6" stroke="#333" stroke-width="0.8"/>
<line x1="668.4" y1="579.7" x2="789.4" y2="579.7" stroke="#333" stroke-width="0.8"/>
<line x1="668.4" y1="591.8" x2="789.4" y2="591.8" stroke="#333" stroke-width="0.8"/>
<line x1="668.4" y1="603.6" x2="789.4" y2="603.6" stroke="#333" stroke-width="0.8"/>
<line x1="668.4" y1="615.7" x2="789.4" y2="615.7" stroke="#333" stroke-width="0.8"/>
<line x1="668.4" y1="627.6" x2="789.4" y2="627.6" stroke="#333" stroke-width="0.8"/>
<line x1="668.4" y1="639.2" x2="789.4" y2="639.2" stroke="#333" stroke-width="0.8"/>
<line x1="668.4" y1="651.6" x2="789.4" y2="651.6" stroke="#333" stroke-width="0.8"/>
<line x1="668.4" y1="670.5" x2="789.4" y2="670.5" stroke="#333" stroke-width="0.8"/>
<line x1="789.4" y1="579.7" x2="974.5" y2="579.7" stroke="#333" stroke-width="0.8"/>
<line x1="789.4" y1="627.6" x2="974.5" y2="627.6" stroke="#333" stroke-width="0.8"/>
<line x1="789.4" y1="639.2" x2="974.5" y2="639.2" stroke="#333" stroke-width="0.8"/>
<line x1="789.4" y1="651.6" x2="974.5" y2="651.6" stroke="#333" stroke-width="0.8"/>
<line x1="789.4" y1="670.5" x2="974.5" y2="670.5" stroke="#333" stroke-width="0.8"/>
<line x1="910.4" y1="551.9" x2="910.4" y2="579.7" stroke="#333" stroke-width="0.8"/>
<line x1="942.6" y1="551.9" x2="942.6" y2="579.7" stroke="#333" stroke-width="0.8"/>
<line x1="927.5" y1="627.6" x2="927.5" y2="682.4" stroke="#333" stroke-width="0.8"/>
<text x="549.2" y="558.5" font-family="'Liberation Sans', sans-serif" font-size="6.9" fill="#2a2a2a" text-anchor="start" stroke="#2a2a2a" stroke-width="0.18" textLength="14.5" lengthAdjust="spacingAndGlyphs">Tolerance</text>
<text x="671" y="558.5" font-family="'Liberation Sans', sans-serif" font-size="6.9" fill="#2a2a2a" text-anchor="start" stroke="#2a2a2a" stroke-width="0.18" textLength="12.5" lengthAdjust="spacingAndGlyphs">Surface</text>
<text x="792" y="558.5" font-family="'Liberation Sans', sans-serif" font-size="6.9" fill="#2a2a2a" text-anchor="start" stroke="#2a2a2a" stroke-width="0.18" textLength="13.5" lengthAdjust="spacingAndGlyphs">Material</text>
<text x="913" y="558.5" font-family="'Liberation Sans', sans-serif" font-size="6.9" fill="#2a2a2a" text-anchor="start" stroke="#2a2a2a" stroke-width="0.18" textLength="10.5" lengthAdjust="spacingAndGlyphs">Weight</text>
<text x="945.2" y="558.5" font-family="'Liberation Sans', sans-serif" font-size="6.9" fill="#2a2a2a" text-anchor="start" stroke="#2a2a2a" stroke-width="0.18" textLength="8.5" lengthAdjust="spacingAndGlyphs">Scale</text>
<text x="671" y="586.9" font-family="'Liberation Sans', sans-serif" font-size="6.9" fill="#2a2a2a" text-anchor="start" stroke="#2a2a2a" stroke-width="0.18" textLength="11" lengthAdjust="spacingAndGlyphs">Author</text>
<text x="671" y="598.9" font-family="'Liberation Sans', sans-serif" font-size="6.9" fill="#2a2a2a" text-anchor="start" stroke="#2a2a2a" stroke-width="0.18" textLength="12.5" lengthAdjust="spacingAndGlyphs">Creator</text>
<text x="671" y="610.9" font-family="'Liberation Sans', sans-serif" font-size="6.9" fill="#2a2a2a" text-anchor="start" stroke="#2a2a2a" stroke-width="0.18" textLength="14.5" lengthAdjust="spacingAndGlyphs">Approval</text>
<text x="671" y="622.9" font-family="'Liberation Sans', sans-serif" font-size="6.9" fill="#2a2a2a" text-anchor="start" stroke="#2a2a2a" stroke-width="0.18" textLength="19.5" lengthAdjust="spacingAndGlyphs">Department</text>
<text x="671" y="634.7" font-family="'Liberation Sans', sans-serif" font-size="6.9" fill="#2a2a2a" text-anchor="start" stroke="#2a2a2a" stroke-width="0.18" textLength="23.5" lengthAdjust="spacingAndGlyphs">Change Order</text>
<text x="671" y="646.5" font-family="'Liberation Sans', sans-serif" font-size="6.9" fill="#2a2a2a" text-anchor="start" stroke="#2a2a2a" stroke-width="0.18" textLength="17.5" lengthAdjust="spacingAndGlyphs">Doc. State</text>
<text x="671" y="658.7" font-family="'Liberation Sans', sans-serif" font-size="6.9" fill="#2a2a2a" text-anchor="start" stroke="#2a2a2a" stroke-width="0.18" textLength="14" lengthAdjust="spacingAndGlyphs">Revision</text>
<text x="721" y="658.7" font-family="'Liberation Sans', sans-serif" font-size="6.9" fill="#2a2a2a" text-anchor="start" stroke="#2a2a2a" stroke-width="0.18" textLength="8.5" lengthAdjust="spacingAndGlyphs">Index</text>
<text x="754" y="658.7" font-family="'Liberation Sans', sans-serif" font-size="6.9" fill="#2a2a2a" text-anchor="start" stroke="#2a2a2a" stroke-width="0.18" textLength="4" lengthAdjust="spacingAndGlyphs">VS</text>
<text x="671" y="677.7" font-family="'Liberation Sans', sans-serif" font-size="6.9" fill="#2a2a2a" text-anchor="start" stroke="#2a2a2a" stroke-width="0.18" textLength="17.5" lengthAdjust="spacingAndGlyphs">Project. No</text>
<text x="792" y="634.7" font-family="'Liberation Sans', sans-serif" font-size="6.9" fill="#2a2a2a" text-anchor="start" stroke="#2a2a2a" stroke-width="0.18" textLength="8.5" lengthAdjust="spacingAndGlyphs">MLFB</text>
<text x="792" y="646.5" font-family="'Liberation Sans', sans-serif" font-size="6.9" fill="#2a2a2a" text-anchor="start" stroke="#2a2a2a" stroke-width="0.18" textLength="13.5" lengthAdjust="spacingAndGlyphs">Item No.</text>
<text x="792" y="658.7" font-family="'Liberation Sans', sans-serif" font-size="6.9" fill="#2a2a2a" text-anchor="start" stroke="#2a2a2a" stroke-width="0.18" textLength="12.5" lengthAdjust="spacingAndGlyphs">Doc. No</text>
<text x="792" y="677.7" font-family="'Liberation Sans', sans-serif" font-size="6.9" fill="#2a2a2a" text-anchor="start" stroke="#2a2a2a" stroke-width="0.18" textLength="12.5" lengthAdjust="spacingAndGlyphs">Ref. No</text>
<text x="930.3" y="634.7" font-family="'Liberation Sans', sans-serif" font-size="6.9" fill="#2a2a2a" text-anchor="start" stroke="#2a2a2a" stroke-width="0.18" textLength="16" lengthAdjust="spacingAndGlyphs">Doc. Type</text>
<text x="930.3" y="646.5" font-family="'Liberation Sans', sans-serif" font-size="6.9" fill="#2a2a2a" text-anchor="start" stroke="#2a2a2a" stroke-width="0.18" textLength="18.5" lengthAdjust="spacingAndGlyphs">Paper Size</text>
<text x="930.3" y="658.5" font-family="'Liberation Sans', sans-serif" font-size="6.9" fill="#2a2a2a" text-anchor="start" stroke="#2a2a2a" stroke-width="0.18" textLength="24" lengthAdjust="spacingAndGlyphs">1st Language</text>
<text x="930.3" y="667.1" font-family="'Liberation Sans', sans-serif" font-size="6.9" fill="#2a2a2a" text-anchor="start" stroke="#2a2a2a" stroke-width="0.18" textLength="25" lengthAdjust="spacingAndGlyphs">2nd Language</text>
<text x="930.3" y="677.5" font-family="'Liberation Sans', sans-serif" font-size="6.9" fill="#2a2a2a" text-anchor="start" stroke="#2a2a2a" stroke-width="0.18" textLength="10.5" lengthAdjust="spacingAndGlyphs">Sheet</text>
<text x="954.4" y="678.7" font-family="'Liberation Sans', sans-serif" font-size="6.9" fill="#2a2a2a" text-anchor="start" stroke="#2a2a2a" stroke-width="0.18" textLength="4.2" lengthAdjust="spacingAndGlyphs">of</text>
<text x="670.8" y="701.9" font-family="'Liberation Sans', sans-serif" font-size="6.9" fill="#2a2a2a" text-anchor="start" stroke="#2a2a2a" stroke-width="0.18" textLength="17" lengthAdjust="spacingAndGlyphs">Restricted</text>
<text x="550" y="589.6" font-family="'Liberation Sans', sans-serif" font-size="8.3" fill="#000" text-anchor="start">1LE1002-1AA63-4AA4-Z</text>
<text x="550" y="597.6" font-family="'Liberation Sans', sans-serif" font-size="5.4" fill="#000" text-anchor="start">D22</text>
<text x="684" y="601.2" font-family="'Liberation Sans', sans-serif" font-size="8.9" fill="#000" text-anchor="start">23/02/2026</text>
<text x="782" y="601.2" font-family="'Liberation Sans', sans-serif" font-size="8.9" fill="#000" text-anchor="end">IPC</text>
<text x="781.6" y="613.2" font-family="'Liberation Sans', sans-serif" font-size="8.9" fill="#000" text-anchor="end">Created automatically</text>
<text x="782" y="625" font-family="'Liberation Sans', sans-serif" font-size="8.9" fill="#000" text-anchor="end">IN LVM</text>
<text x="782" y="648.8" font-family="'Liberation Sans', sans-serif" font-size="8.9" fill="#000" text-anchor="end">Released</text>
<text x="695.4" y="664.6" font-family="'Liberation Sans', sans-serif" font-size="8.9" fill="#000" text-anchor="start">AA</text>
<text x="794.4" y="593.3" font-family="'Liberation Sans', sans-serif" font-size="8.9" fill="#000" text-anchor="start">Dimensional drawing</text>
<text x="794.4" y="608.8" font-family="'Liberation Sans', sans-serif" font-size="8.9" fill="#000" text-anchor="start">Ma&#223;zeichnung</text>
<text x="951.5" y="575.4" font-family="'Liberation Sans', sans-serif" font-size="8.9" fill="#000" text-anchor="start">mm</text>
<text x="953.8" y="648.2" font-family="'Liberation Sans', sans-serif" font-size="8.9" fill="#000" text-anchor="start">A3</text>
<text x="958.8" y="658.4" font-family="'Liberation Sans', sans-serif" font-size="8.9" fill="#000" text-anchor="start">en</text>
<text x="958.8" y="667.2" font-family="'Liberation Sans', sans-serif" font-size="8.9" fill="#000" text-anchor="start">de</text>
<text x="945.6" y="678.6" font-family="'Liberation Sans', sans-serif" font-size="8.9" fill="#000" text-anchor="start">1</text>
<text x="963.2" y="678.6" font-family="'Liberation Sans', sans-serif" font-size="8.9" fill="#000" text-anchor="start">1</text>
<line x1="959.4" y1="638.2" x2="960.6" y2="629.6" stroke="#444" stroke-width="0.6"/>
<path d="M951.2 563.2 L956.6 562.2 V567.6 L951.2 566.6 Z" fill="none" stroke="#222" stroke-width="0.6"/>
<line x1="949.6" y1="564.9" x2="958.2" y2="564.9" stroke="#222" stroke-width="0.4"/>
<circle cx="961.4" cy="564.9" r="2.9" fill="none" stroke="#222" stroke-width="0.6"/>
<circle cx="961.4" cy="564.9" r="1.5" fill="none" stroke="#222" stroke-width="0.6"/>
<line x1="957.4" y1="564.9" x2="965.4" y2="564.9" stroke="#222" stroke-width="0.4"/>
<line x1="961.4" y1="561" x2="961.4" y2="568.8" stroke="#222" stroke-width="0.4"/>
<rect x="570.5" y="646.7" width="3.4" height="15.7" fill="#000"/>
<rect x="575.4" y="646.7" width="3" height="15.7" fill="#000"/>
<rect x="580.3" y="646.7" width="3" height="15.7" fill="#000"/>
<path d="M575.4 646.7 L578.6 646.7 L583.3 662.4 L580.1 662.4 Z" fill="#000"/>
<rect x="584.8" y="646.7" width="3" height="15.7" fill="#000"/>
<rect x="589.7" y="646.7" width="3" height="15.7" fill="#000"/>
<path d="M584.8 646.7 L588 646.7 L592.7 662.4 L589.5 662.4 Z" fill="#000"/>
<path d="M595.55 650.7 Q595.55 648.1 597.75 648.1 H597.85 Q600.05 648.1 600.05 650.7 V658.4 Q600.05 661 597.85 661 H597.75 Q595.55 661 595.55 658.4 Z" fill="none" stroke="#000" stroke-width="3.1" stroke-linejoin="round" stroke-miterlimit="2"/>
<rect x="602.9" y="646.7" width="3" height="15.7" fill="#000"/>
<rect x="609.8" y="646.7" width="3" height="15.7" fill="#000"/>
<path d="M602.9 646.7 H606.2 L607.85 657.2 L609.5 646.7 H612.8 L609.0 662.4 H606.7 Z" fill="#000"/>
<path d="M615.55 650.7 Q615.55 648.1 617.75 648.1 H617.65 Q619.85 648.1 619.85 650.7 V658.4 Q619.85 661 617.65 661 H617.75 Q615.55 661 615.55 658.4 Z" fill="none" stroke="#000" stroke-width="3.1" stroke-linejoin="round" stroke-miterlimit="2"/>
<rect x="621.9" y="646.7" width="6.6" height="2.9" fill="#000"/>
<rect x="623.6" y="646.7" width="3.2" height="15.7" fill="#000"/>
<rect x="629.2" y="646.7" width="3.2" height="15.7" fill="#000"/>
<path d="M637.6 652.3 V650.3 Q637.6 648.1 636.1 648.1 Q634.7 648.1 634.7 650.5 V658.6 Q634.7 661 636.1 661 Q637.6 661 637.6 658.8 V656.8" fill="none" stroke="#000" stroke-width="2.6" stroke-linejoin="round" stroke-miterlimit="2"/>
<path d="M643.2 651.9 V650.1 Q643.2 648.1 641.9 648.1 Q640.5 648.1 640.5 650.1 V651.3 Q640.5 652.9 641.4 653.9 L642.5 655.3 Q643.3 656.1 643.3 657.5 V659 Q643.3 661 641.9 661 Q640.5 661 640.5 659 V657" fill="none" stroke="#000" stroke-width="2.7" stroke-linejoin="round" stroke-miterlimit="2"/>
<text x="548" y="679.2" font-family="'Liberation Mono', monospace" font-size="9.2" fill="#555" textLength="60.5" lengthAdjust="spacing">&#169;Innomotics</text>
<text x="639.8" y="679.2" font-family="'Liberation Mono', monospace" font-size="9.2" fill="#555" textLength="22.2" lengthAdjust="spacing">2026</text>
<text x="423.4" y="668.2" font-family="'Liberation Sans', sans-serif" font-size="6.45" fill="#111" text-anchor="start" textLength="109.3" lengthAdjust="spacingAndGlyphs">Technische &#196;nderungen vorbehalten!</text>
<text x="423.4" y="677.4" font-family="'Liberation Sans', sans-serif" font-size="6.45" fill="#111" text-anchor="start" textLength="109.3" lengthAdjust="spacingAndGlyphs">Technical data are subject to change!</text>
</svg></body></html>
